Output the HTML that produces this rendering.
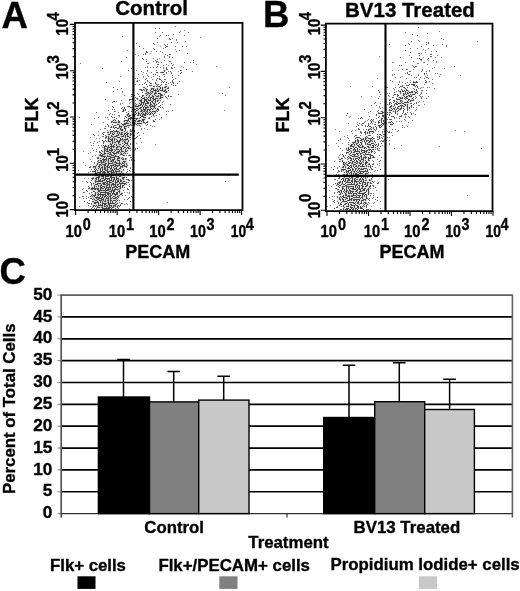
<!DOCTYPE html>
<html><head><meta charset="utf-8"><title>Figure</title>
<style>html,body{margin:0;padding:0;background:#fff}svg{display:block}</style></head>
<body>
<svg width="520" height="591" viewBox="0 0 520 591" font-family='"Liberation Sans", sans-serif' font-weight="bold" fill="#000"><style>text{stroke:#000;stroke-width:0.35px;stroke-linejoin:round}</style>
<rect width="520" height="591" fill="#fff"/>
<path d="M86 190.5h1M87 202.5h1M88 172.5h1M88 186.5h1M88 188.5h1M88 197.5h1M88 203.5h1M88 205.5h1M89 167.5h1M89 187.5h1M89 188.5h1M89 193.5h1M89 200.5h1M89 203.5h1M90 167.5h1M90 171.5h1M90 182.5h1M90 196.5h1M90 198.5h1M90 206.5h1M91 169.5h1M91 178.5h1M91 180.5h1M91 183.5h1M91 184.5h1M91 185.5h1M91 192.5h1M91 195.5h1M91 198.5h1M91 203.5h1M91 204.5h1M91 208.5h1M92 171.5h1M92 178.5h1M92 179.5h1M92 199.5h1M92 201.5h1M92 207.5h1M93 143.5h1M93 166.5h1M93 177.5h1M94 166.5h1M94 191.5h1M94 208.5h1M95 192.5h1M96 208.5h1M97 157.5h1M97 158.5h1M97 161.5h1M98 157.5h1M98 158.5h1M99 151.5h1M99 152.5h1M101 145.5h1M101 150.5h1M102 133.5h1M102 140.5h1M102 147.5h1M102 208.5h1M103 132.5h1M103 134.5h1M103 136.5h1M103 141.5h1M103 142.5h1M103 143.5h1M104 132.5h1M104 141.5h1M105 126.5h1M105 128.5h1M105 135.5h1M105 137.5h1M105 138.5h1M105 140.5h1M106 141.5h1M107 124.5h1M107 130.5h1M107 132.5h1M108 125.5h1M108 126.5h1M110 127.5h1M110 129.5h1M111 116.5h1M111 121.5h1M111 122.5h1M111 126.5h1M111 127.5h1M112 109.5h1M112 114.5h1M112 117.5h1M112 121.5h1M112 124.5h1M113 107.5h1M113 130.5h1M114 101.5h1M114 109.5h1M114 111.5h1M114 117.5h1M114 119.5h1M114 125.5h1M114 128.5h1M115 122.5h1M115 125.5h1M115 208.5h1M116 118.5h1M116 127.5h1M117 128.5h1M118 120.5h1M118 121.5h1M118 197.5h1M118 208.5h1M119 121.5h1M119 200.5h1M119 202.5h1M119 206.5h1M120 204.5h1M120 205.5h1M121 108.5h1M121 123.5h1M121 154.5h1M121 194.5h1M121 203.5h1M122 107.5h1M122 111.5h1M122 143.5h1M122 157.5h1M122 159.5h1M122 193.5h1M122 195.5h1M122 203.5h1M123 111.5h1M123 158.5h1M123 169.5h1M123 170.5h1M123 174.5h1M123 177.5h1M123 178.5h1M124 107.5h1M124 108.5h1M124 118.5h1M124 120.5h1M124 155.5h1M124 174.5h1M124 187.5h1M125 109.5h1M125 110.5h1M125 116.5h1M125 129.5h1M125 130.5h1M125 158.5h1M126 112.5h1M126 117.5h1M126 155.5h1M126 167.5h1M126 172.5h1M126 174.5h1M126 177.5h1M126 179.5h1M126 184.5h1M127 131.5h1M127 153.5h1M127 165.5h1M127 169.5h1M127 171.5h1M127 179.5h1M127 188.5h1M128 106.5h1M128 127.5h1M128 140.5h1M128 155.5h1M128 179.5h1M128 180.5h1M128 182.5h1M129 99.5h1M129 100.5h1M129 106.5h1M129 155.5h1M129 170.5h1M129 180.5h1M129 197.5h1M130 99.5h1M130 107.5h1M130 129.5h1M130 130.5h1M130 134.5h1M130 137.5h1M130 139.5h1M130 143.5h1M130 144.5h1M130 148.5h1M130 150.5h1M130 155.5h1M130 157.5h1M130 168.5h1M131 96.5h1M131 99.5h1M131 107.5h1M131 111.5h1M131 125.5h1M131 134.5h1M131 157.5h1M131 159.5h1M131 196.5h1M132 94.5h1M132 98.5h1M132 99.5h1M132 107.5h1M132 114.5h1M132 138.5h1M132 169.5h1M133 100.5h1M133 127.5h1M133 128.5h1M133 133.5h1M133 134.5h1M133 140.5h1M134 125.5h1M134 130.5h1M134 131.5h1M134 135.5h1M134 138.5h1M135 97.5h1M135 100.5h1M135 105.5h1M135 106.5h1M135 138.5h1M135 148.5h1M135 149.5h1M136 98.5h1M136 137.5h1M137 78.5h1M137 80.5h1M137 81.5h1M137 98.5h1M137 99.5h1M137 115.5h1M137 125.5h1M137 136.5h1M139 80.5h1M139 89.5h1M139 96.5h1M139 118.5h1M140 89.5h1M141 89.5h1M141 90.5h1M142 90.5h1M142 92.5h1M142 95.5h1M143 87.5h1M143 95.5h1M144 83.5h1M144 87.5h1M144 122.5h1M145 53.5h1M145 54.5h1M145 79.5h1M145 82.5h1M145 93.5h1M146 51.5h1M146 52.5h1M146 61.5h1M146 78.5h1M146 84.5h1M146 89.5h1M146 122.5h1M147 52.5h1M147 80.5h1M147 81.5h1M147 86.5h1M147 89.5h1M147 121.5h1M147 122.5h1M147 124.5h1M149 82.5h1M149 85.5h1M149 117.5h1M149 118.5h1M150 83.5h1M150 85.5h1M151 83.5h1M151 85.5h1M151 116.5h1M153 74.5h1M153 76.5h1M153 86.5h1M153 115.5h1M153 120.5h1M153 121.5h1M154 86.5h1M154 116.5h1M154 121.5h1M155 60.5h1M155 74.5h1M155 82.5h1M155 83.5h1M155 119.5h1M156 61.5h1M156 62.5h1M156 72.5h1M156 80.5h1M156 86.5h1M157 59.5h1M157 61.5h1M157 64.5h1M157 66.5h1M157 72.5h1M157 78.5h1M157 85.5h1M157 111.5h1M158 62.5h1M158 64.5h1M158 84.5h1M158 103.5h1M158 106.5h1M158 109.5h1M158 110.5h1M159 76.5h1M159 78.5h1M159 79.5h1M159 102.5h1M159 106.5h1M160 79.5h1M160 85.5h1M160 100.5h1M160 105.5h1M160 107.5h1M161 72.5h1M161 80.5h1M161 82.5h1M161 84.5h1M162 81.5h1M162 87.5h1M162 102.5h1M162 107.5h1M163 72.5h1M163 74.5h1M163 82.5h1M164 71.5h1M164 74.5h1M164 79.5h1M164 81.5h1M164 94.5h1M165 45.5h1M165 47.5h1M165 84.5h1M165 86.5h1M165 87.5h1M165 96.5h1M166 46.5h1M166 67.5h1M166 68.5h1M166 69.5h1M166 72.5h1M166 73.5h1M166 82.5h1M166 84.5h1M166 97.5h1M167 44.5h1M167 46.5h1M167 55.5h1M167 69.5h1M167 98.5h1M168 71.5h1M168 83.5h1M168 87.5h1M168 88.5h1M168 90.5h1M168 95.5h1M168 96.5h1M169 54.5h1M169 56.5h1M170 39.5h1M170 71.5h1M170 82.5h1M170 96.5h1M171 63.5h1M171 67.5h1M171 73.5h1M171 84.5h1M172 65.5h1M172 68.5h1M172 80.5h1M172 81.5h1M172 82.5h1M173 79.5h1M173 82.5h1M173 83.5h1M173 85.5h1M175 85.5h1M180 70.5h1M180 73.5h1M181 72.5h1" stroke="#5c5c5c" stroke-width="1" fill="none"/>
<path d="M78 170.5h1M79 117.5h1M79 197.5h1M79 206.5h1M80 63.5h1M82 181.5h1M82 189.5h1M82 196.5h1M83 151.5h1M83 162.5h1M83 188.5h1M83 192.5h1M83 196.5h1M83 198.5h1M84 178.5h1M84 192.5h1M84 201.5h1M85 165.5h1M86 174.5h1M86 181.5h1M86 196.5h1M86 198.5h1M87 182.5h1M87 191.5h1M88 153.5h1M88 178.5h1M90 137.5h1M90 142.5h1M90 152.5h1M90 159.5h1M90 166.5h1M90 174.5h1M90 175.5h1M91 124.5h1M91 145.5h1M91 161.5h1M92 148.5h1M92 156.5h1M93 134.5h1M93 145.5h1M93 150.5h1M94 118.5h1M94 135.5h1M94 141.5h1M94 162.5h1M94 163.5h1M95 155.5h1M96 112.5h1M96 138.5h1M96 149.5h1M96 151.5h1M97 142.5h1M98 117.5h1M98 131.5h1M98 135.5h1M98 145.5h1M99 138.5h1M99 141.5h1M99 147.5h1M100 129.5h1M102 68.5h1M102 136.5h1M103 122.5h1M104 128.5h1M105 99.5h1M105 117.5h1M106 82.5h1M107 117.5h1M108 110.5h1M108 119.5h1M109 114.5h1M110 113.5h1M112 102.5h1M112 106.5h1M113 87.5h1M113 91.5h1M113 101.5h1M114 114.5h1M115 111.5h1M116 101.5h1M117 89.5h1M118 112.5h1M118 115.5h1M119 81.5h1M119 115.5h1M119 116.5h1M120 76.5h1M120 103.5h1M120 104.5h1M121 61.5h1M121 88.5h1M121 100.5h1M122 36.5h1M122 91.5h1M122 92.5h1M122 103.5h1M123 190.5h1M124 95.5h1M124 192.5h1M124 199.5h1M124 204.5h1M125 195.5h1M126 57.5h1M126 158.5h1M126 203.5h1M127 50.5h1M127 106.5h1M127 189.5h1M127 192.5h1M127 199.5h1M127 204.5h1M128 70.5h1M128 111.5h1M128 175.5h1M128 189.5h1M128 198.5h1M129 103.5h1M129 160.5h1M129 184.5h1M129 186.5h1M129 192.5h1M129 193.5h1M129 208.5h1M130 102.5h1M130 167.5h1M130 171.5h1M130 201.5h1M131 68.5h1M131 94.5h1M131 160.5h1M131 180.5h1M132 176.5h1M132 197.5h1M133 57.5h1M133 72.5h1M133 84.5h1M133 141.5h1M133 168.5h1M133 177.5h1M133 195.5h1M134 95.5h1M134 150.5h1M134 160.5h1M134 172.5h1M135 54.5h1M135 78.5h1M135 84.5h1M135 103.5h1M136 43.5h1M136 70.5h1M136 81.5h1M136 143.5h1M137 93.5h1M137 133.5h1M137 148.5h1M138 55.5h1M138 74.5h1M138 94.5h1M138 132.5h1M139 46.5h1M139 84.5h1M139 135.5h1M140 126.5h1M140 138.5h1M141 71.5h1M141 128.5h1M141 129.5h1M141 142.5h1M142 58.5h1M142 74.5h1M142 84.5h1M143 48.5h1M143 54.5h1M143 59.5h1M143 72.5h1M143 76.5h1M143 77.5h1M143 133.5h1M144 128.5h1M145 67.5h1M146 59.5h1M146 73.5h1M146 125.5h1M147 63.5h1M147 66.5h1M147 67.5h1M147 70.5h1M147 71.5h1M147 75.5h1M147 129.5h1M148 63.5h1M148 76.5h1M148 118.5h1M150 53.5h1M150 67.5h1M150 125.5h1M151 51.5h1M151 72.5h1M151 77.5h1M152 79.5h1M152 126.5h1M153 43.5h1M153 48.5h1M153 58.5h1M153 61.5h1M153 67.5h1M154 44.5h1M154 49.5h1M154 126.5h1M155 28.5h1M155 32.5h1M155 144.5h1M156 51.5h1M156 67.5h1M156 70.5h1M156 79.5h1M156 115.5h1M157 38.5h1M157 42.5h1M157 75.5h1M159 28.5h1M159 36.5h1M159 58.5h1M159 114.5h1M159 119.5h1M160 35.5h1M160 46.5h1M160 51.5h1M160 67.5h1M160 72.5h1M161 62.5h1M161 117.5h1M161 118.5h1M162 32.5h1M162 52.5h1M162 104.5h1M163 48.5h1M163 65.5h1M163 67.5h1M163 68.5h1M163 101.5h1M163 108.5h1M164 44.5h1M164 56.5h1M164 57.5h1M164 60.5h1M164 76.5h1M165 54.5h1M165 79.5h1M166 35.5h1M166 64.5h1M166 111.5h1M166 114.5h1M167 202.5h1M168 35.5h1M168 65.5h1M168 111.5h1M169 38.5h1M169 39.5h1M169 57.5h1M169 61.5h1M170 54.5h1M170 61.5h1M170 104.5h1M171 42.5h1M171 68.5h1M171 72.5h1M171 96.5h1M172 38.5h1M172 57.5h1M172 75.5h1M172 77.5h1M172 110.5h1M173 34.5h1M173 64.5h1M174 67.5h1M175 26.5h1M175 46.5h1M175 49.5h1M175 78.5h1M176 39.5h1M176 40.5h1M176 51.5h1M177 42.5h1M177 83.5h1M178 71.5h1M178 75.5h1M178 94.5h1M179 32.5h1M179 50.5h1M179 81.5h1M180 31.5h1M181 66.5h1M181 70.5h1M182 46.5h1M183 67.5h1M184 30.5h1M184 35.5h1M184 62.5h1M185 41.5h1M186 46.5h1M186 69.5h1M187 53.5h1M188 32.5h1M190 62.5h1M192 71.5h1M193 60.5h1M193 62.5h1M196 64.5h1M200 37.5h1M216 66.5h1M222 93.5h1M224 110.5h1M225 95.5h1M225 181.5h1M228 175.5h1M229 87.5h1" stroke="#7a7a7a" stroke-width="1" fill="none"/>
<path d="M91 188.5h1M91 189.5h1M92 187.5h1M92 188.5h1M92 189.5h1M92 194.5h1M92 196.5h1M93 167.5h1M93 171.5h1M93 178.5h1M93 183.5h1M93 188.5h1M93 191.5h1M93 195.5h1M93 198.5h1M93 201.5h1M93 205.5h1M93 206.5h1M94 169.5h1M94 171.5h1M94 185.5h1M94 186.5h1M94 187.5h1M94 188.5h1M94 189.5h1M94 195.5h1M94 196.5h1M94 199.5h1M94 202.5h1M94 203.5h1M94 205.5h1M95 166.5h1M95 167.5h1M95 168.5h1M95 170.5h1M95 171.5h1M95 172.5h1M95 173.5h1M95 175.5h1M95 178.5h1M95 180.5h1M95 181.5h1M95 182.5h1M95 184.5h1M95 188.5h1M95 189.5h1M95 193.5h1M95 194.5h1M95 195.5h1M95 197.5h1M95 200.5h1M95 202.5h1M95 203.5h1M95 206.5h1M96 165.5h1M96 169.5h1M96 173.5h1M96 175.5h1M96 177.5h1M96 178.5h1M96 179.5h1M96 181.5h1M96 184.5h1M96 186.5h1M96 188.5h1M96 197.5h1M96 198.5h1M96 200.5h1M96 202.5h1M96 205.5h1M97 163.5h1M97 164.5h1M97 170.5h1M97 172.5h1M97 174.5h1M97 175.5h1M97 177.5h1M97 181.5h1M97 183.5h1M97 184.5h1M97 188.5h1M97 189.5h1M97 192.5h1M97 194.5h1M97 196.5h1M97 197.5h1M97 199.5h1M97 201.5h1M97 202.5h1M97 206.5h1M97 207.5h1M98 160.5h1M98 162.5h1M98 166.5h1M98 168.5h1M98 172.5h1M98 174.5h1M98 176.5h1M98 177.5h1M98 178.5h1M98 179.5h1M98 180.5h1M98 181.5h1M98 183.5h1M98 185.5h1M98 186.5h1M98 188.5h1M98 189.5h1M98 190.5h1M98 191.5h1M98 193.5h1M98 194.5h1M98 195.5h1M98 197.5h1M98 198.5h1M98 199.5h1M98 202.5h1M98 203.5h1M98 204.5h1M98 205.5h1M98 207.5h1M99 155.5h1M99 162.5h1M99 164.5h1M99 165.5h1M99 166.5h1M99 167.5h1M99 172.5h1M99 175.5h1M99 176.5h1M99 177.5h1M99 180.5h1M99 181.5h1M99 183.5h1M99 190.5h1M99 191.5h1M99 194.5h1M99 197.5h1M99 198.5h1M99 200.5h1M99 205.5h1M99 207.5h1M100 152.5h1M100 154.5h1M100 155.5h1M100 158.5h1M100 160.5h1M100 161.5h1M100 164.5h1M100 168.5h1M100 169.5h1M100 170.5h1M100 171.5h1M100 172.5h1M100 173.5h1M100 174.5h1M100 179.5h1M100 180.5h1M100 181.5h1M100 183.5h1M100 185.5h1M100 186.5h1M100 187.5h1M100 188.5h1M100 189.5h1M100 190.5h1M100 192.5h1M100 193.5h1M100 194.5h1M100 195.5h1M100 196.5h1M100 198.5h1M100 200.5h1M100 201.5h1M100 202.5h1M100 204.5h1M100 205.5h1M101 153.5h1M101 155.5h1M101 156.5h1M101 160.5h1M101 161.5h1M101 162.5h1M101 163.5h1M101 165.5h1M101 167.5h1M101 171.5h1M101 174.5h1M101 175.5h1M101 176.5h1M101 178.5h1M101 181.5h1M101 184.5h1M101 185.5h1M101 187.5h1M101 188.5h1M101 190.5h1M101 192.5h1M101 194.5h1M101 197.5h1M101 198.5h1M101 199.5h1M101 200.5h1M101 205.5h1M101 207.5h1M102 151.5h1M102 154.5h1M102 155.5h1M102 156.5h1M102 159.5h1M102 162.5h1M102 164.5h1M102 166.5h1M102 167.5h1M102 168.5h1M102 169.5h1M102 170.5h1M102 172.5h1M102 175.5h1M102 176.5h1M102 178.5h1M102 180.5h1M102 181.5h1M102 183.5h1M102 186.5h1M102 188.5h1M102 190.5h1M102 192.5h1M102 194.5h1M102 195.5h1M102 196.5h1M102 197.5h1M102 199.5h1M102 201.5h1M102 202.5h1M102 203.5h1M102 204.5h1M102 205.5h1M102 206.5h1M102 207.5h1M103 145.5h1M103 154.5h1M103 156.5h1M103 158.5h1M103 159.5h1M103 160.5h1M103 161.5h1M103 162.5h1M103 164.5h1M103 171.5h1M103 172.5h1M103 174.5h1M103 175.5h1M103 176.5h1M103 177.5h1M103 178.5h1M103 180.5h1M103 182.5h1M103 183.5h1M103 184.5h1M103 186.5h1M103 188.5h1M103 190.5h1M103 192.5h1M103 194.5h1M103 195.5h1M103 198.5h1M103 199.5h1M103 200.5h1M103 203.5h1M103 208.5h1M104 146.5h1M104 147.5h1M104 148.5h1M104 149.5h1M104 150.5h1M104 151.5h1M104 152.5h1M104 153.5h1M104 154.5h1M104 156.5h1M104 157.5h1M104 159.5h1M104 160.5h1M104 162.5h1M104 164.5h1M104 165.5h1M104 166.5h1M104 167.5h1M104 168.5h1M104 169.5h1M104 171.5h1M104 172.5h1M104 173.5h1M104 174.5h1M104 179.5h1M104 180.5h1M104 182.5h1M104 183.5h1M104 184.5h1M104 186.5h1M104 187.5h1M104 190.5h1M104 192.5h1M104 194.5h1M104 196.5h1M104 197.5h1M104 201.5h1M104 203.5h1M104 204.5h1M104 205.5h1M104 206.5h1M104 208.5h1M105 145.5h1M105 146.5h1M105 148.5h1M105 150.5h1M105 153.5h1M105 156.5h1M105 159.5h1M105 161.5h1M105 163.5h1M105 164.5h1M105 165.5h1M105 167.5h1M105 168.5h1M105 169.5h1M105 170.5h1M105 172.5h1M105 174.5h1M105 175.5h1M105 176.5h1M105 177.5h1M105 178.5h1M105 179.5h1M105 182.5h1M105 184.5h1M105 188.5h1M105 189.5h1M105 190.5h1M105 191.5h1M105 192.5h1M105 193.5h1M105 194.5h1M105 195.5h1M105 196.5h1M105 199.5h1M105 200.5h1M105 201.5h1M105 203.5h1M105 204.5h1M105 206.5h1M105 208.5h1M106 136.5h1M106 137.5h1M106 146.5h1M106 149.5h1M106 151.5h1M106 157.5h1M106 158.5h1M106 159.5h1M106 160.5h1M106 163.5h1M106 166.5h1M106 170.5h1M106 174.5h1M106 176.5h1M106 178.5h1M106 180.5h1M106 181.5h1M106 183.5h1M106 185.5h1M106 186.5h1M106 187.5h1M106 188.5h1M106 190.5h1M106 192.5h1M106 195.5h1M106 197.5h1M106 198.5h1M106 203.5h1M106 205.5h1M106 207.5h1M106 208.5h1M107 147.5h1M107 148.5h1M107 149.5h1M107 150.5h1M107 151.5h1M107 153.5h1M107 155.5h1M107 156.5h1M107 165.5h1M107 166.5h1M107 167.5h1M107 168.5h1M107 169.5h1M107 170.5h1M107 171.5h1M107 172.5h1M107 174.5h1M107 175.5h1M107 176.5h1M107 178.5h1M107 179.5h1M107 181.5h1M107 182.5h1M107 183.5h1M107 184.5h1M107 185.5h1M107 187.5h1M107 189.5h1M107 190.5h1M107 192.5h1M107 193.5h1M107 194.5h1M107 196.5h1M107 198.5h1M107 200.5h1M107 202.5h1M107 205.5h1M107 206.5h1M107 208.5h1M108 132.5h1M108 134.5h1M108 136.5h1M108 137.5h1M108 138.5h1M108 139.5h1M108 140.5h1M108 141.5h1M108 145.5h1M108 146.5h1M108 147.5h1M108 151.5h1M108 153.5h1M108 156.5h1M108 158.5h1M108 159.5h1M108 160.5h1M108 161.5h1M108 162.5h1M108 163.5h1M108 164.5h1M108 165.5h1M108 167.5h1M108 171.5h1M108 172.5h1M108 174.5h1M108 175.5h1M108 176.5h1M108 178.5h1M108 181.5h1M108 184.5h1M108 187.5h1M108 188.5h1M108 189.5h1M108 190.5h1M108 192.5h1M108 193.5h1M108 194.5h1M108 195.5h1M108 197.5h1M108 198.5h1M108 199.5h1M108 200.5h1M108 201.5h1M108 202.5h1M108 203.5h1M108 204.5h1M108 207.5h1M108 208.5h1M109 134.5h1M109 138.5h1M109 141.5h1M109 147.5h1M109 149.5h1M109 150.5h1M109 152.5h1M109 154.5h1M109 156.5h1M109 158.5h1M109 163.5h1M109 166.5h1M109 167.5h1M109 171.5h1M109 173.5h1M109 174.5h1M109 178.5h1M109 179.5h1M109 180.5h1M109 181.5h1M109 182.5h1M109 183.5h1M109 184.5h1M109 185.5h1M109 186.5h1M109 187.5h1M109 189.5h1M109 191.5h1M109 193.5h1M109 196.5h1M109 203.5h1M109 204.5h1M109 205.5h1M109 206.5h1M109 207.5h1M109 208.5h1M110 131.5h1M110 132.5h1M110 133.5h1M110 137.5h1M110 139.5h1M110 141.5h1M110 143.5h1M110 144.5h1M110 146.5h1M110 148.5h1M110 150.5h1M110 152.5h1M110 153.5h1M110 154.5h1M110 156.5h1M110 157.5h1M110 158.5h1M110 159.5h1M110 161.5h1M110 163.5h1M110 165.5h1M110 168.5h1M110 169.5h1M110 171.5h1M110 174.5h1M110 176.5h1M110 177.5h1M110 180.5h1M110 182.5h1M110 187.5h1M110 188.5h1M110 189.5h1M110 191.5h1M110 193.5h1M110 194.5h1M110 195.5h1M110 196.5h1M110 197.5h1M110 198.5h1M110 199.5h1M110 200.5h1M110 201.5h1M110 202.5h1M110 203.5h1M110 205.5h1M110 207.5h1M111 131.5h1M111 135.5h1M111 136.5h1M111 139.5h1M111 140.5h1M111 144.5h1M111 145.5h1M111 146.5h1M111 147.5h1M111 148.5h1M111 149.5h1M111 150.5h1M111 151.5h1M111 154.5h1M111 155.5h1M111 157.5h1M111 160.5h1M111 161.5h1M111 163.5h1M111 165.5h1M111 166.5h1M111 167.5h1M111 168.5h1M111 170.5h1M111 171.5h1M111 172.5h1M111 173.5h1M111 175.5h1M111 176.5h1M111 177.5h1M111 178.5h1M111 179.5h1M111 180.5h1M111 182.5h1M111 184.5h1M111 185.5h1M111 186.5h1M111 190.5h1M111 191.5h1M111 192.5h1M111 195.5h1M111 198.5h1M111 200.5h1M111 203.5h1M111 205.5h1M111 206.5h1M111 208.5h1M112 131.5h1M112 133.5h1M112 134.5h1M112 136.5h1M112 138.5h1M112 139.5h1M112 140.5h1M112 141.5h1M112 142.5h1M112 143.5h1M112 146.5h1M112 149.5h1M112 150.5h1M112 152.5h1M112 155.5h1M112 157.5h1M112 159.5h1M112 160.5h1M112 162.5h1M112 163.5h1M112 165.5h1M112 169.5h1M112 170.5h1M112 172.5h1M112 174.5h1M112 175.5h1M112 177.5h1M112 181.5h1M112 183.5h1M112 184.5h1M112 187.5h1M112 188.5h1M112 189.5h1M112 190.5h1M112 193.5h1M112 194.5h1M112 197.5h1M112 201.5h1M112 202.5h1M112 203.5h1M112 207.5h1M113 120.5h1M113 122.5h1M113 126.5h1M113 127.5h1M113 132.5h1M113 134.5h1M113 137.5h1M113 145.5h1M113 146.5h1M113 147.5h1M113 152.5h1M113 153.5h1M113 155.5h1M113 157.5h1M113 159.5h1M113 160.5h1M113 161.5h1M113 164.5h1M113 165.5h1M113 167.5h1M113 170.5h1M113 171.5h1M113 172.5h1M113 175.5h1M113 177.5h1M113 179.5h1M113 180.5h1M113 181.5h1M113 183.5h1M113 184.5h1M113 185.5h1M113 187.5h1M113 190.5h1M113 191.5h1M113 192.5h1M113 193.5h1M113 196.5h1M113 198.5h1M113 200.5h1M113 203.5h1M113 205.5h1M113 206.5h1M113 207.5h1M114 122.5h1M114 131.5h1M114 133.5h1M114 136.5h1M114 138.5h1M114 139.5h1M114 140.5h1M114 142.5h1M114 144.5h1M114 146.5h1M114 149.5h1M114 151.5h1M114 153.5h1M114 154.5h1M114 156.5h1M114 157.5h1M114 158.5h1M114 159.5h1M114 162.5h1M114 164.5h1M114 166.5h1M114 168.5h1M114 169.5h1M114 172.5h1M114 174.5h1M114 175.5h1M114 177.5h1M114 178.5h1M114 179.5h1M114 184.5h1M114 186.5h1M114 187.5h1M114 189.5h1M114 190.5h1M114 191.5h1M114 193.5h1M114 194.5h1M114 196.5h1M114 198.5h1M114 200.5h1M114 203.5h1M114 205.5h1M115 120.5h1M115 127.5h1M115 131.5h1M115 136.5h1M115 142.5h1M115 150.5h1M115 153.5h1M115 155.5h1M115 156.5h1M115 161.5h1M115 162.5h1M115 164.5h1M115 165.5h1M115 166.5h1M115 168.5h1M115 170.5h1M115 171.5h1M115 175.5h1M115 180.5h1M115 181.5h1M115 182.5h1M115 183.5h1M115 184.5h1M115 185.5h1M115 186.5h1M115 188.5h1M115 189.5h1M115 194.5h1M115 195.5h1M115 197.5h1M115 198.5h1M115 200.5h1M115 202.5h1M115 204.5h1M115 205.5h1M115 206.5h1M116 122.5h1M116 130.5h1M116 131.5h1M116 135.5h1M116 136.5h1M116 139.5h1M116 141.5h1M116 144.5h1M116 145.5h1M116 147.5h1M116 148.5h1M116 149.5h1M116 152.5h1M116 153.5h1M116 156.5h1M116 162.5h1M116 163.5h1M116 165.5h1M116 167.5h1M116 168.5h1M116 169.5h1M116 171.5h1M116 172.5h1M116 173.5h1M116 174.5h1M116 176.5h1M116 177.5h1M116 178.5h1M116 179.5h1M116 182.5h1M116 186.5h1M116 187.5h1M116 189.5h1M116 192.5h1M116 193.5h1M116 194.5h1M116 197.5h1M116 199.5h1M116 201.5h1M116 204.5h1M117 124.5h1M117 131.5h1M117 132.5h1M117 133.5h1M117 135.5h1M117 137.5h1M117 140.5h1M117 141.5h1M117 146.5h1M117 147.5h1M117 149.5h1M117 151.5h1M117 152.5h1M117 156.5h1M117 158.5h1M117 159.5h1M117 160.5h1M117 163.5h1M117 165.5h1M117 166.5h1M117 169.5h1M117 171.5h1M117 174.5h1M117 175.5h1M117 178.5h1M117 180.5h1M117 181.5h1M117 182.5h1M117 184.5h1M117 185.5h1M117 187.5h1M117 189.5h1M117 192.5h1M117 193.5h1M117 194.5h1M117 196.5h1M117 198.5h1M117 200.5h1M117 203.5h1M117 206.5h1M117 207.5h1M118 122.5h1M118 124.5h1M118 128.5h1M118 131.5h1M118 134.5h1M118 135.5h1M118 137.5h1M118 141.5h1M118 142.5h1M118 143.5h1M118 146.5h1M118 149.5h1M118 151.5h1M118 152.5h1M118 153.5h1M118 156.5h1M118 157.5h1M118 158.5h1M118 160.5h1M118 163.5h1M118 165.5h1M118 169.5h1M118 171.5h1M118 175.5h1M118 178.5h1M118 179.5h1M118 180.5h1M118 181.5h1M118 184.5h1M118 186.5h1M118 189.5h1M118 191.5h1M118 196.5h1M118 205.5h1M119 122.5h1M119 125.5h1M119 126.5h1M119 127.5h1M119 132.5h1M119 133.5h1M119 137.5h1M119 140.5h1M119 141.5h1M119 142.5h1M119 144.5h1M119 146.5h1M119 150.5h1M119 151.5h1M119 157.5h1M119 158.5h1M119 160.5h1M119 161.5h1M119 162.5h1M119 163.5h1M119 164.5h1M119 165.5h1M119 168.5h1M119 170.5h1M119 171.5h1M119 173.5h1M119 176.5h1M119 182.5h1M119 183.5h1M119 186.5h1M119 188.5h1M119 190.5h1M119 191.5h1M119 192.5h1M119 195.5h1M120 126.5h1M120 128.5h1M120 129.5h1M120 134.5h1M120 138.5h1M120 139.5h1M120 140.5h1M120 144.5h1M120 147.5h1M120 149.5h1M120 152.5h1M120 154.5h1M120 163.5h1M120 166.5h1M120 167.5h1M120 168.5h1M120 173.5h1M120 175.5h1M120 176.5h1M120 179.5h1M120 180.5h1M120 181.5h1M120 183.5h1M120 184.5h1M120 185.5h1M120 186.5h1M120 187.5h1M120 188.5h1M120 194.5h1M121 126.5h1M121 127.5h1M121 129.5h1M121 130.5h1M121 132.5h1M121 133.5h1M121 134.5h1M121 136.5h1M121 139.5h1M121 147.5h1M121 148.5h1M121 149.5h1M121 150.5h1M121 151.5h1M121 153.5h1M121 158.5h1M121 164.5h1M121 166.5h1M121 171.5h1M121 172.5h1M121 174.5h1M121 180.5h1M121 181.5h1M121 183.5h1M121 193.5h1M122 124.5h1M122 129.5h1M122 130.5h1M122 132.5h1M122 134.5h1M122 136.5h1M122 138.5h1M122 139.5h1M122 141.5h1M122 146.5h1M122 151.5h1M122 154.5h1M122 162.5h1M122 163.5h1M122 165.5h1M122 166.5h1M122 167.5h1M122 173.5h1M122 177.5h1M122 178.5h1M122 182.5h1M122 183.5h1M122 185.5h1M122 186.5h1M122 187.5h1M123 109.5h1M123 110.5h1M123 124.5h1M123 125.5h1M123 135.5h1M123 136.5h1M123 140.5h1M123 145.5h1M123 146.5h1M123 148.5h1M123 151.5h1M123 153.5h1M123 155.5h1M123 159.5h1M123 161.5h1M123 163.5h1M123 165.5h1M123 173.5h1M123 175.5h1M123 179.5h1M123 181.5h1M123 183.5h1M123 185.5h1M124 121.5h1M124 123.5h1M124 124.5h1M124 126.5h1M124 127.5h1M124 128.5h1M124 131.5h1M124 133.5h1M124 134.5h1M124 139.5h1M124 141.5h1M124 142.5h1M124 144.5h1M124 147.5h1M124 152.5h1M124 161.5h1M124 162.5h1M124 164.5h1M124 165.5h1M124 166.5h1M124 177.5h1M124 181.5h1M124 183.5h1M124 184.5h1M125 120.5h1M125 123.5h1M125 124.5h1M125 126.5h1M125 128.5h1M125 133.5h1M125 135.5h1M125 136.5h1M125 137.5h1M125 139.5h1M125 140.5h1M125 142.5h1M125 143.5h1M125 147.5h1M125 149.5h1M125 150.5h1M125 151.5h1M125 153.5h1M125 159.5h1M125 161.5h1M125 166.5h1M125 183.5h1M126 120.5h1M126 122.5h1M126 123.5h1M126 126.5h1M126 132.5h1M126 134.5h1M126 139.5h1M126 143.5h1M126 145.5h1M126 148.5h1M126 151.5h1M126 163.5h1M126 164.5h1M126 166.5h1M126 182.5h1M127 114.5h1M127 115.5h1M127 120.5h1M127 121.5h1M127 123.5h1M127 125.5h1M127 133.5h1M127 134.5h1M127 135.5h1M127 136.5h1M127 138.5h1M127 139.5h1M127 142.5h1M127 143.5h1M127 144.5h1M127 147.5h1M127 150.5h1M128 113.5h1M128 114.5h1M128 116.5h1M128 118.5h1M128 119.5h1M128 120.5h1M128 123.5h1M128 125.5h1M128 133.5h1M128 136.5h1M128 141.5h1M128 145.5h1M128 147.5h1M128 148.5h1M129 115.5h1M129 116.5h1M129 118.5h1M129 121.5h1M129 125.5h1M129 137.5h1M129 146.5h1M129 148.5h1M130 115.5h1M130 117.5h1M130 118.5h1M130 119.5h1M130 122.5h1M130 124.5h1M130 131.5h1M130 133.5h1M130 135.5h1M131 117.5h1M131 118.5h1M131 131.5h1M132 109.5h1M132 118.5h1M132 120.5h1M132 122.5h1M132 123.5h1M132 129.5h1M132 130.5h1M132 133.5h1M133 109.5h1M133 110.5h1M133 114.5h1M133 115.5h1M133 117.5h1M133 119.5h1M133 120.5h1M134 109.5h1M134 114.5h1M134 115.5h1M134 116.5h1M134 118.5h1M134 120.5h1M134 122.5h1M134 123.5h1M134 124.5h1M135 109.5h1M135 111.5h1M135 112.5h1M135 114.5h1M135 118.5h1M135 120.5h1M135 121.5h1M135 123.5h1M136 104.5h1M136 106.5h1M136 108.5h1M136 110.5h1M136 113.5h1M136 118.5h1M136 119.5h1M136 124.5h1M137 106.5h1M137 108.5h1M137 110.5h1M137 118.5h1M137 121.5h1M137 123.5h1M138 105.5h1M138 106.5h1M138 109.5h1M138 112.5h1M138 113.5h1M138 114.5h1M138 115.5h1M138 120.5h1M138 121.5h1M138 123.5h1M139 100.5h1M139 103.5h1M139 105.5h1M139 108.5h1M139 113.5h1M139 120.5h1M139 121.5h1M139 123.5h1M139 125.5h1M140 100.5h1M140 101.5h1M140 104.5h1M140 105.5h1M140 107.5h1M140 108.5h1M140 111.5h1M140 114.5h1M140 115.5h1M140 117.5h1M140 120.5h1M140 123.5h1M141 97.5h1M141 99.5h1M141 100.5h1M141 101.5h1M141 102.5h1M141 103.5h1M141 104.5h1M141 107.5h1M141 109.5h1M141 110.5h1M141 111.5h1M141 113.5h1M141 116.5h1M141 121.5h1M141 123.5h1M142 96.5h1M142 98.5h1M142 102.5h1M142 105.5h1M142 106.5h1M142 110.5h1M142 112.5h1M142 114.5h1M142 115.5h1M142 116.5h1M142 119.5h1M142 120.5h1M143 89.5h1M143 98.5h1M143 102.5h1M143 103.5h1M143 104.5h1M143 107.5h1M143 108.5h1M143 109.5h1M143 111.5h1M143 113.5h1M143 114.5h1M143 116.5h1M143 117.5h1M143 119.5h1M143 120.5h1M143 121.5h1M143 122.5h1M144 90.5h1M144 97.5h1M144 98.5h1M144 99.5h1M144 100.5h1M144 101.5h1M144 102.5h1M144 106.5h1M144 109.5h1M144 110.5h1M144 111.5h1M144 114.5h1M144 115.5h1M144 117.5h1M144 119.5h1M145 88.5h1M145 99.5h1M145 100.5h1M145 103.5h1M145 104.5h1M145 105.5h1M145 107.5h1M145 108.5h1M145 109.5h1M145 110.5h1M145 112.5h1M145 113.5h1M145 114.5h1M145 115.5h1M145 117.5h1M145 123.5h1M146 90.5h1M146 91.5h1M146 93.5h1M146 95.5h1M146 97.5h1M146 99.5h1M146 100.5h1M146 101.5h1M146 103.5h1M146 105.5h1M146 107.5h1M146 108.5h1M146 111.5h1M146 113.5h1M147 92.5h1M147 94.5h1M147 98.5h1M147 101.5h1M147 102.5h1M147 103.5h1M147 106.5h1M147 107.5h1M147 109.5h1M147 110.5h1M147 111.5h1M147 112.5h1M147 114.5h1M148 92.5h1M148 93.5h1M148 97.5h1M148 99.5h1M148 100.5h1M148 102.5h1M148 103.5h1M148 107.5h1M148 109.5h1M148 113.5h1M149 93.5h1M149 95.5h1M149 96.5h1M149 100.5h1M149 105.5h1M149 109.5h1M149 110.5h1M149 112.5h1M149 114.5h1M150 90.5h1M150 92.5h1M150 94.5h1M150 97.5h1M150 98.5h1M150 99.5h1M150 100.5h1M150 102.5h1M150 103.5h1M150 104.5h1M150 105.5h1M150 106.5h1M150 107.5h1M150 109.5h1M150 111.5h1M150 113.5h1M150 114.5h1M151 88.5h1M151 89.5h1M151 91.5h1M151 93.5h1M151 97.5h1M151 101.5h1M151 104.5h1M151 106.5h1M151 108.5h1M151 112.5h1M152 88.5h1M152 91.5h1M152 92.5h1M152 95.5h1M152 96.5h1M152 98.5h1M152 101.5h1M152 102.5h1M152 105.5h1M152 106.5h1M152 109.5h1M152 111.5h1M152 113.5h1M153 88.5h1M153 89.5h1M153 90.5h1M153 96.5h1M153 97.5h1M153 98.5h1M153 99.5h1M153 100.5h1M153 103.5h1M153 106.5h1M153 108.5h1M153 111.5h1M153 114.5h1M154 90.5h1M154 93.5h1M154 94.5h1M154 99.5h1M154 103.5h1M154 104.5h1M154 105.5h1M154 106.5h1M154 107.5h1M154 111.5h1M154 113.5h1M155 89.5h1M155 90.5h1M155 91.5h1M155 92.5h1M155 93.5h1M155 95.5h1M155 98.5h1M155 99.5h1M155 100.5h1M155 101.5h1M155 102.5h1M155 105.5h1M155 108.5h1M155 111.5h1M155 112.5h1M156 84.5h1M156 90.5h1M156 93.5h1M156 96.5h1M156 98.5h1M156 104.5h1M156 110.5h1M157 88.5h1M157 89.5h1M157 91.5h1M157 96.5h1M157 98.5h1M157 100.5h1M157 101.5h1M157 108.5h1M157 109.5h1M158 86.5h1M158 90.5h1M158 91.5h1M158 93.5h1M158 95.5h1M158 96.5h1M158 100.5h1M159 86.5h1M159 89.5h1M159 93.5h1M159 98.5h1M160 87.5h1M160 88.5h1M160 90.5h1M160 93.5h1M160 94.5h1M160 95.5h1M160 96.5h1M160 97.5h1M160 98.5h1M161 90.5h1M161 94.5h1M161 95.5h1M161 97.5h1M162 72.5h1M162 88.5h1M162 89.5h1M162 90.5h1M162 95.5h1M162 97.5h1M163 91.5h1M164 70.5h1M164 87.5h1M164 90.5h1M164 91.5h1M165 89.5h1M165 90.5h1M165 92.5h1M166 86.5h1M166 91.5h1M166 92.5h1M167 88.5h1" stroke="#000" stroke-opacity="0.15" stroke-width="2.2" stroke-linecap="square" fill="none"/>
<path d="M91 188.5h1M91 189.5h1M92 187.5h1M92 188.5h1M92 189.5h1M92 194.5h1M92 196.5h1M93 167.5h1M93 171.5h1M93 178.5h1M93 183.5h1M93 188.5h1M93 191.5h1M93 195.5h1M93 198.5h1M93 201.5h1M93 205.5h1M93 206.5h1M94 169.5h1M94 171.5h1M94 185.5h1M94 186.5h1M94 187.5h1M94 188.5h1M94 189.5h1M94 195.5h1M94 196.5h1M94 199.5h1M94 202.5h1M94 203.5h1M94 205.5h1M95 166.5h1M95 167.5h1M95 168.5h1M95 170.5h1M95 171.5h1M95 172.5h1M95 173.5h1M95 175.5h1M95 178.5h1M95 180.5h1M95 181.5h1M95 182.5h1M95 184.5h1M95 188.5h1M95 189.5h1M95 193.5h1M95 194.5h1M95 195.5h1M95 197.5h1M95 200.5h1M95 202.5h1M95 203.5h1M95 206.5h1M96 165.5h1M96 169.5h1M96 173.5h1M96 175.5h1M96 177.5h1M96 178.5h1M96 179.5h1M96 181.5h1M96 184.5h1M96 186.5h1M96 188.5h1M96 197.5h1M96 198.5h1M96 200.5h1M96 202.5h1M96 205.5h1M97 163.5h1M97 164.5h1M97 170.5h1M97 172.5h1M97 174.5h1M97 175.5h1M97 177.5h1M97 181.5h1M97 183.5h1M97 184.5h1M97 188.5h1M97 189.5h1M97 192.5h1M97 194.5h1M97 196.5h1M97 197.5h1M97 199.5h1M97 201.5h1M97 202.5h1M97 206.5h1M97 207.5h1M98 160.5h1M98 162.5h1M98 166.5h1M98 168.5h1M98 172.5h1M98 174.5h1M98 176.5h1M98 177.5h1M98 178.5h1M98 179.5h1M98 180.5h1M98 181.5h1M98 183.5h1M98 185.5h1M98 186.5h1M98 188.5h1M98 189.5h1M98 190.5h1M98 191.5h1M98 193.5h1M98 194.5h1M98 195.5h1M98 197.5h1M98 198.5h1M98 199.5h1M98 202.5h1M98 203.5h1M98 204.5h1M98 205.5h1M98 207.5h1M99 155.5h1M99 162.5h1M99 164.5h1M99 165.5h1M99 166.5h1M99 167.5h1M99 172.5h1M99 175.5h1M99 176.5h1M99 177.5h1M99 180.5h1M99 181.5h1M99 183.5h1M99 190.5h1M99 191.5h1M99 194.5h1M99 197.5h1M99 198.5h1M99 200.5h1M99 205.5h1M99 207.5h1M100 152.5h1M100 154.5h1M100 155.5h1M100 158.5h1M100 160.5h1M100 161.5h1M100 164.5h1M100 168.5h1M100 169.5h1M100 170.5h1M100 171.5h1M100 172.5h1M100 173.5h1M100 174.5h1M100 179.5h1M100 180.5h1M100 181.5h1M100 183.5h1M100 185.5h1M100 186.5h1M100 187.5h1M100 188.5h1M100 189.5h1M100 190.5h1M100 192.5h1M100 193.5h1M100 194.5h1M100 195.5h1M100 196.5h1M100 198.5h1M100 200.5h1M100 201.5h1M100 202.5h1M100 204.5h1M100 205.5h1M101 153.5h1M101 155.5h1M101 156.5h1M101 160.5h1M101 161.5h1M101 162.5h1M101 163.5h1M101 165.5h1M101 167.5h1M101 171.5h1M101 174.5h1M101 175.5h1M101 176.5h1M101 178.5h1M101 181.5h1M101 184.5h1M101 185.5h1M101 187.5h1M101 188.5h1M101 190.5h1M101 192.5h1M101 194.5h1M101 197.5h1M101 198.5h1M101 199.5h1M101 200.5h1M101 205.5h1M101 207.5h1M102 151.5h1M102 154.5h1M102 155.5h1M102 156.5h1M102 159.5h1M102 162.5h1M102 164.5h1M102 166.5h1M102 167.5h1M102 168.5h1M102 169.5h1M102 170.5h1M102 172.5h1M102 175.5h1M102 176.5h1M102 178.5h1M102 180.5h1M102 181.5h1M102 183.5h1M102 186.5h1M102 188.5h1M102 190.5h1M102 192.5h1M102 194.5h1M102 195.5h1M102 196.5h1M102 197.5h1M102 199.5h1M102 201.5h1M102 202.5h1M102 203.5h1M102 204.5h1M102 205.5h1M102 206.5h1M102 207.5h1M103 145.5h1M103 154.5h1M103 156.5h1M103 158.5h1M103 159.5h1M103 160.5h1M103 161.5h1M103 162.5h1M103 164.5h1M103 171.5h1M103 172.5h1M103 174.5h1M103 175.5h1M103 176.5h1M103 177.5h1M103 178.5h1M103 180.5h1M103 182.5h1M103 183.5h1M103 184.5h1M103 186.5h1M103 188.5h1M103 190.5h1M103 192.5h1M103 194.5h1M103 195.5h1M103 198.5h1M103 199.5h1M103 200.5h1M103 203.5h1M103 208.5h1M104 146.5h1M104 147.5h1M104 148.5h1M104 149.5h1M104 150.5h1M104 151.5h1M104 152.5h1M104 153.5h1M104 154.5h1M104 156.5h1M104 157.5h1M104 159.5h1M104 160.5h1M104 162.5h1M104 164.5h1M104 165.5h1M104 166.5h1M104 167.5h1M104 168.5h1M104 169.5h1M104 171.5h1M104 172.5h1M104 173.5h1M104 174.5h1M104 179.5h1M104 180.5h1M104 182.5h1M104 183.5h1M104 184.5h1M104 186.5h1M104 187.5h1M104 190.5h1M104 192.5h1M104 194.5h1M104 196.5h1M104 197.5h1M104 201.5h1M104 203.5h1M104 204.5h1M104 205.5h1M104 206.5h1M104 208.5h1M105 145.5h1M105 146.5h1M105 148.5h1M105 150.5h1M105 153.5h1M105 156.5h1M105 159.5h1M105 161.5h1M105 163.5h1M105 164.5h1M105 165.5h1M105 167.5h1M105 168.5h1M105 169.5h1M105 170.5h1M105 172.5h1M105 174.5h1M105 175.5h1M105 176.5h1M105 177.5h1M105 178.5h1M105 179.5h1M105 182.5h1M105 184.5h1M105 188.5h1M105 189.5h1M105 190.5h1M105 191.5h1M105 192.5h1M105 193.5h1M105 194.5h1M105 195.5h1M105 196.5h1M105 199.5h1M105 200.5h1M105 201.5h1M105 203.5h1M105 204.5h1M105 206.5h1M105 208.5h1M106 136.5h1M106 137.5h1M106 146.5h1M106 149.5h1M106 151.5h1M106 157.5h1M106 158.5h1M106 159.5h1M106 160.5h1M106 163.5h1M106 166.5h1M106 170.5h1M106 174.5h1M106 176.5h1M106 178.5h1M106 180.5h1M106 181.5h1M106 183.5h1M106 185.5h1M106 186.5h1M106 187.5h1M106 188.5h1M106 190.5h1M106 192.5h1M106 195.5h1M106 197.5h1M106 198.5h1M106 203.5h1M106 205.5h1M106 207.5h1M106 208.5h1M107 147.5h1M107 148.5h1M107 149.5h1M107 150.5h1M107 151.5h1M107 153.5h1M107 155.5h1M107 156.5h1M107 165.5h1M107 166.5h1M107 167.5h1M107 168.5h1M107 169.5h1M107 170.5h1M107 171.5h1M107 172.5h1M107 174.5h1M107 175.5h1M107 176.5h1M107 178.5h1M107 179.5h1M107 181.5h1M107 182.5h1M107 183.5h1M107 184.5h1M107 185.5h1M107 187.5h1M107 189.5h1M107 190.5h1M107 192.5h1M107 193.5h1M107 194.5h1M107 196.5h1M107 198.5h1M107 200.5h1M107 202.5h1M107 205.5h1M107 206.5h1M107 208.5h1M108 132.5h1M108 134.5h1M108 136.5h1M108 137.5h1M108 138.5h1M108 139.5h1M108 140.5h1M108 141.5h1M108 145.5h1M108 146.5h1M108 147.5h1M108 151.5h1M108 153.5h1M108 156.5h1M108 158.5h1M108 159.5h1M108 160.5h1M108 161.5h1M108 162.5h1M108 163.5h1M108 164.5h1M108 165.5h1M108 167.5h1M108 171.5h1M108 172.5h1M108 174.5h1M108 175.5h1M108 176.5h1M108 178.5h1M108 181.5h1M108 184.5h1M108 187.5h1M108 188.5h1M108 189.5h1M108 190.5h1M108 192.5h1M108 193.5h1M108 194.5h1M108 195.5h1M108 197.5h1M108 198.5h1M108 199.5h1M108 200.5h1M108 201.5h1M108 202.5h1M108 203.5h1M108 204.5h1M108 207.5h1M108 208.5h1M109 134.5h1M109 138.5h1M109 141.5h1M109 147.5h1M109 149.5h1M109 150.5h1M109 152.5h1M109 154.5h1M109 156.5h1M109 158.5h1M109 163.5h1M109 166.5h1M109 167.5h1M109 171.5h1M109 173.5h1M109 174.5h1M109 178.5h1M109 179.5h1M109 180.5h1M109 181.5h1M109 182.5h1M109 183.5h1M109 184.5h1M109 185.5h1M109 186.5h1M109 187.5h1M109 189.5h1M109 191.5h1M109 193.5h1M109 196.5h1M109 203.5h1M109 204.5h1M109 205.5h1M109 206.5h1M109 207.5h1M109 208.5h1M110 131.5h1M110 132.5h1M110 133.5h1M110 137.5h1M110 139.5h1M110 141.5h1M110 143.5h1M110 144.5h1M110 146.5h1M110 148.5h1M110 150.5h1M110 152.5h1M110 153.5h1M110 154.5h1M110 156.5h1M110 157.5h1M110 158.5h1M110 159.5h1M110 161.5h1M110 163.5h1M110 165.5h1M110 168.5h1M110 169.5h1M110 171.5h1M110 174.5h1M110 176.5h1M110 177.5h1M110 180.5h1M110 182.5h1M110 187.5h1M110 188.5h1M110 189.5h1M110 191.5h1M110 193.5h1M110 194.5h1M110 195.5h1M110 196.5h1M110 197.5h1M110 198.5h1M110 199.5h1M110 200.5h1M110 201.5h1M110 202.5h1M110 203.5h1M110 205.5h1M110 207.5h1M111 131.5h1M111 135.5h1M111 136.5h1M111 139.5h1M111 140.5h1M111 144.5h1M111 145.5h1M111 146.5h1M111 147.5h1M111 148.5h1M111 149.5h1M111 150.5h1M111 151.5h1M111 154.5h1M111 155.5h1M111 157.5h1M111 160.5h1M111 161.5h1M111 163.5h1M111 165.5h1M111 166.5h1M111 167.5h1M111 168.5h1M111 170.5h1M111 171.5h1M111 172.5h1M111 173.5h1M111 175.5h1M111 176.5h1M111 177.5h1M111 178.5h1M111 179.5h1M111 180.5h1M111 182.5h1M111 184.5h1M111 185.5h1M111 186.5h1M111 190.5h1M111 191.5h1M111 192.5h1M111 195.5h1M111 198.5h1M111 200.5h1M111 203.5h1M111 205.5h1M111 206.5h1M111 208.5h1M112 131.5h1M112 133.5h1M112 134.5h1M112 136.5h1M112 138.5h1M112 139.5h1M112 140.5h1M112 141.5h1M112 142.5h1M112 143.5h1M112 146.5h1M112 149.5h1M112 150.5h1M112 152.5h1M112 155.5h1M112 157.5h1M112 159.5h1M112 160.5h1M112 162.5h1M112 163.5h1M112 165.5h1M112 169.5h1M112 170.5h1M112 172.5h1M112 174.5h1M112 175.5h1M112 177.5h1M112 181.5h1M112 183.5h1M112 184.5h1M112 187.5h1M112 188.5h1M112 189.5h1M112 190.5h1M112 193.5h1M112 194.5h1M112 197.5h1M112 201.5h1M112 202.5h1M112 203.5h1M112 207.5h1M113 120.5h1M113 122.5h1M113 126.5h1M113 127.5h1M113 132.5h1M113 134.5h1M113 137.5h1M113 145.5h1M113 146.5h1M113 147.5h1M113 152.5h1M113 153.5h1M113 155.5h1M113 157.5h1M113 159.5h1M113 160.5h1M113 161.5h1M113 164.5h1M113 165.5h1M113 167.5h1M113 170.5h1M113 171.5h1M113 172.5h1M113 175.5h1M113 177.5h1M113 179.5h1M113 180.5h1M113 181.5h1M113 183.5h1M113 184.5h1M113 185.5h1M113 187.5h1M113 190.5h1M113 191.5h1M113 192.5h1M113 193.5h1M113 196.5h1M113 198.5h1M113 200.5h1M113 203.5h1M113 205.5h1M113 206.5h1M113 207.5h1M114 122.5h1M114 131.5h1M114 133.5h1M114 136.5h1M114 138.5h1M114 139.5h1M114 140.5h1M114 142.5h1M114 144.5h1M114 146.5h1M114 149.5h1M114 151.5h1M114 153.5h1M114 154.5h1M114 156.5h1M114 157.5h1M114 158.5h1M114 159.5h1M114 162.5h1M114 164.5h1M114 166.5h1M114 168.5h1M114 169.5h1M114 172.5h1M114 174.5h1M114 175.5h1M114 177.5h1M114 178.5h1M114 179.5h1M114 184.5h1M114 186.5h1M114 187.5h1M114 189.5h1M114 190.5h1M114 191.5h1M114 193.5h1M114 194.5h1M114 196.5h1M114 198.5h1M114 200.5h1M114 203.5h1M114 205.5h1M115 120.5h1M115 127.5h1M115 131.5h1M115 136.5h1M115 142.5h1M115 150.5h1M115 153.5h1M115 155.5h1M115 156.5h1M115 161.5h1M115 162.5h1M115 164.5h1M115 165.5h1M115 166.5h1M115 168.5h1M115 170.5h1M115 171.5h1M115 175.5h1M115 180.5h1M115 181.5h1M115 182.5h1M115 183.5h1M115 184.5h1M115 185.5h1M115 186.5h1M115 188.5h1M115 189.5h1M115 194.5h1M115 195.5h1M115 197.5h1M115 198.5h1M115 200.5h1M115 202.5h1M115 204.5h1M115 205.5h1M115 206.5h1M116 122.5h1M116 130.5h1M116 131.5h1M116 135.5h1M116 136.5h1M116 139.5h1M116 141.5h1M116 144.5h1M116 145.5h1M116 147.5h1M116 148.5h1M116 149.5h1M116 152.5h1M116 153.5h1M116 156.5h1M116 162.5h1M116 163.5h1M116 165.5h1M116 167.5h1M116 168.5h1M116 169.5h1M116 171.5h1M116 172.5h1M116 173.5h1M116 174.5h1M116 176.5h1M116 177.5h1M116 178.5h1M116 179.5h1M116 182.5h1M116 186.5h1M116 187.5h1M116 189.5h1M116 192.5h1M116 193.5h1M116 194.5h1M116 197.5h1M116 199.5h1M116 201.5h1M116 204.5h1M117 124.5h1M117 131.5h1M117 132.5h1M117 133.5h1M117 135.5h1M117 137.5h1M117 140.5h1M117 141.5h1M117 146.5h1M117 147.5h1M117 149.5h1M117 151.5h1M117 152.5h1M117 156.5h1M117 158.5h1M117 159.5h1M117 160.5h1M117 163.5h1M117 165.5h1M117 166.5h1M117 169.5h1M117 171.5h1M117 174.5h1M117 175.5h1M117 178.5h1M117 180.5h1M117 181.5h1M117 182.5h1M117 184.5h1M117 185.5h1M117 187.5h1M117 189.5h1M117 192.5h1M117 193.5h1M117 194.5h1M117 196.5h1M117 198.5h1M117 200.5h1M117 203.5h1M117 206.5h1M117 207.5h1M118 122.5h1M118 124.5h1M118 128.5h1M118 131.5h1M118 134.5h1M118 135.5h1M118 137.5h1M118 141.5h1M118 142.5h1M118 143.5h1M118 146.5h1M118 149.5h1M118 151.5h1M118 152.5h1M118 153.5h1M118 156.5h1M118 157.5h1M118 158.5h1M118 160.5h1M118 163.5h1M118 165.5h1M118 169.5h1M118 171.5h1M118 175.5h1M118 178.5h1M118 179.5h1M118 180.5h1M118 181.5h1M118 184.5h1M118 186.5h1M118 189.5h1M118 191.5h1M118 196.5h1M118 205.5h1M119 122.5h1M119 125.5h1M119 126.5h1M119 127.5h1M119 132.5h1M119 133.5h1M119 137.5h1M119 140.5h1M119 141.5h1M119 142.5h1M119 144.5h1M119 146.5h1M119 150.5h1M119 151.5h1M119 157.5h1M119 158.5h1M119 160.5h1M119 161.5h1M119 162.5h1M119 163.5h1M119 164.5h1M119 165.5h1M119 168.5h1M119 170.5h1M119 171.5h1M119 173.5h1M119 176.5h1M119 182.5h1M119 183.5h1M119 186.5h1M119 188.5h1M119 190.5h1M119 191.5h1M119 192.5h1M119 195.5h1M120 126.5h1M120 128.5h1M120 129.5h1M120 134.5h1M120 138.5h1M120 139.5h1M120 140.5h1M120 144.5h1M120 147.5h1M120 149.5h1M120 152.5h1M120 154.5h1M120 163.5h1M120 166.5h1M120 167.5h1M120 168.5h1M120 173.5h1M120 175.5h1M120 176.5h1M120 179.5h1M120 180.5h1M120 181.5h1M120 183.5h1M120 184.5h1M120 185.5h1M120 186.5h1M120 187.5h1M120 188.5h1M120 194.5h1M121 126.5h1M121 127.5h1M121 129.5h1M121 130.5h1M121 132.5h1M121 133.5h1M121 134.5h1M121 136.5h1M121 139.5h1M121 147.5h1M121 148.5h1M121 149.5h1M121 150.5h1M121 151.5h1M121 153.5h1M121 158.5h1M121 164.5h1M121 166.5h1M121 171.5h1M121 172.5h1M121 174.5h1M121 180.5h1M121 181.5h1M121 183.5h1M121 193.5h1M122 124.5h1M122 129.5h1M122 130.5h1M122 132.5h1M122 134.5h1M122 136.5h1M122 138.5h1M122 139.5h1M122 141.5h1M122 146.5h1M122 151.5h1M122 154.5h1M122 162.5h1M122 163.5h1M122 165.5h1M122 166.5h1M122 167.5h1M122 173.5h1M122 177.5h1M122 178.5h1M122 182.5h1M122 183.5h1M122 185.5h1M122 186.5h1M122 187.5h1M123 109.5h1M123 110.5h1M123 124.5h1M123 125.5h1M123 135.5h1M123 136.5h1M123 140.5h1M123 145.5h1M123 146.5h1M123 148.5h1M123 151.5h1M123 153.5h1M123 155.5h1M123 159.5h1M123 161.5h1M123 163.5h1M123 165.5h1M123 173.5h1M123 175.5h1M123 179.5h1M123 181.5h1M123 183.5h1M123 185.5h1M124 121.5h1M124 123.5h1M124 124.5h1M124 126.5h1M124 127.5h1M124 128.5h1M124 131.5h1M124 133.5h1M124 134.5h1M124 139.5h1M124 141.5h1M124 142.5h1M124 144.5h1M124 147.5h1M124 152.5h1M124 161.5h1M124 162.5h1M124 164.5h1M124 165.5h1M124 166.5h1M124 177.5h1M124 181.5h1M124 183.5h1M124 184.5h1M125 120.5h1M125 123.5h1M125 124.5h1M125 126.5h1M125 128.5h1M125 133.5h1M125 135.5h1M125 136.5h1M125 137.5h1M125 139.5h1M125 140.5h1M125 142.5h1M125 143.5h1M125 147.5h1M125 149.5h1M125 150.5h1M125 151.5h1M125 153.5h1M125 159.5h1M125 161.5h1M125 166.5h1M125 183.5h1M126 120.5h1M126 122.5h1M126 123.5h1M126 126.5h1M126 132.5h1M126 134.5h1M126 139.5h1M126 143.5h1M126 145.5h1M126 148.5h1M126 151.5h1M126 163.5h1M126 164.5h1M126 166.5h1M126 182.5h1M127 114.5h1M127 115.5h1M127 120.5h1M127 121.5h1M127 123.5h1M127 125.5h1M127 133.5h1M127 134.5h1M127 135.5h1M127 136.5h1M127 138.5h1M127 139.5h1M127 142.5h1M127 143.5h1M127 144.5h1M127 147.5h1M127 150.5h1M128 113.5h1M128 114.5h1M128 116.5h1M128 118.5h1M128 119.5h1M128 120.5h1M128 123.5h1M128 125.5h1M128 133.5h1M128 136.5h1M128 141.5h1M128 145.5h1M128 147.5h1M128 148.5h1M129 115.5h1M129 116.5h1M129 118.5h1M129 121.5h1M129 125.5h1M129 137.5h1M129 146.5h1M129 148.5h1M130 115.5h1M130 117.5h1M130 118.5h1M130 119.5h1M130 122.5h1M130 124.5h1M130 131.5h1M130 133.5h1M130 135.5h1M131 117.5h1M131 118.5h1M131 131.5h1M132 109.5h1M132 118.5h1M132 120.5h1M132 122.5h1M132 123.5h1M132 129.5h1M132 130.5h1M132 133.5h1M133 109.5h1M133 110.5h1M133 114.5h1M133 115.5h1M133 117.5h1M133 119.5h1M133 120.5h1M134 109.5h1M134 114.5h1M134 115.5h1M134 116.5h1M134 118.5h1M134 120.5h1M134 122.5h1M134 123.5h1M134 124.5h1M135 109.5h1M135 111.5h1M135 112.5h1M135 114.5h1M135 118.5h1M135 120.5h1M135 121.5h1M135 123.5h1M136 104.5h1M136 106.5h1M136 108.5h1M136 110.5h1M136 113.5h1M136 118.5h1M136 119.5h1M136 124.5h1M137 106.5h1M137 108.5h1M137 110.5h1M137 118.5h1M137 121.5h1M137 123.5h1M138 105.5h1M138 106.5h1M138 109.5h1M138 112.5h1M138 113.5h1M138 114.5h1M138 115.5h1M138 120.5h1M138 121.5h1M138 123.5h1M139 100.5h1M139 103.5h1M139 105.5h1M139 108.5h1M139 113.5h1M139 120.5h1M139 121.5h1M139 123.5h1M139 125.5h1M140 100.5h1M140 101.5h1M140 104.5h1M140 105.5h1M140 107.5h1M140 108.5h1M140 111.5h1M140 114.5h1M140 115.5h1M140 117.5h1M140 120.5h1M140 123.5h1M141 97.5h1M141 99.5h1M141 100.5h1M141 101.5h1M141 102.5h1M141 103.5h1M141 104.5h1M141 107.5h1M141 109.5h1M141 110.5h1M141 111.5h1M141 113.5h1M141 116.5h1M141 121.5h1M141 123.5h1M142 96.5h1M142 98.5h1M142 102.5h1M142 105.5h1M142 106.5h1M142 110.5h1M142 112.5h1M142 114.5h1M142 115.5h1M142 116.5h1M142 119.5h1M142 120.5h1M143 89.5h1M143 98.5h1M143 102.5h1M143 103.5h1M143 104.5h1M143 107.5h1M143 108.5h1M143 109.5h1M143 111.5h1M143 113.5h1M143 114.5h1M143 116.5h1M143 117.5h1M143 119.5h1M143 120.5h1M143 121.5h1M143 122.5h1M144 90.5h1M144 97.5h1M144 98.5h1M144 99.5h1M144 100.5h1M144 101.5h1M144 102.5h1M144 106.5h1M144 109.5h1M144 110.5h1M144 111.5h1M144 114.5h1M144 115.5h1M144 117.5h1M144 119.5h1M145 88.5h1M145 99.5h1M145 100.5h1M145 103.5h1M145 104.5h1M145 105.5h1M145 107.5h1M145 108.5h1M145 109.5h1M145 110.5h1M145 112.5h1M145 113.5h1M145 114.5h1M145 115.5h1M145 117.5h1M145 123.5h1M146 90.5h1M146 91.5h1M146 93.5h1M146 95.5h1M146 97.5h1M146 99.5h1M146 100.5h1M146 101.5h1M146 103.5h1M146 105.5h1M146 107.5h1M146 108.5h1M146 111.5h1M146 113.5h1M147 92.5h1M147 94.5h1M147 98.5h1M147 101.5h1M147 102.5h1M147 103.5h1M147 106.5h1M147 107.5h1M147 109.5h1M147 110.5h1M147 111.5h1M147 112.5h1M147 114.5h1M148 92.5h1M148 93.5h1M148 97.5h1M148 99.5h1M148 100.5h1M148 102.5h1M148 103.5h1M148 107.5h1M148 109.5h1M148 113.5h1M149 93.5h1M149 95.5h1M149 96.5h1M149 100.5h1M149 105.5h1M149 109.5h1M149 110.5h1M149 112.5h1M149 114.5h1M150 90.5h1M150 92.5h1M150 94.5h1M150 97.5h1M150 98.5h1M150 99.5h1M150 100.5h1M150 102.5h1M150 103.5h1M150 104.5h1M150 105.5h1M150 106.5h1M150 107.5h1M150 109.5h1M150 111.5h1M150 113.5h1M150 114.5h1M151 88.5h1M151 89.5h1M151 91.5h1M151 93.5h1M151 97.5h1M151 101.5h1M151 104.5h1M151 106.5h1M151 108.5h1M151 112.5h1M152 88.5h1M152 91.5h1M152 92.5h1M152 95.5h1M152 96.5h1M152 98.5h1M152 101.5h1M152 102.5h1M152 105.5h1M152 106.5h1M152 109.5h1M152 111.5h1M152 113.5h1M153 88.5h1M153 89.5h1M153 90.5h1M153 96.5h1M153 97.5h1M153 98.5h1M153 99.5h1M153 100.5h1M153 103.5h1M153 106.5h1M153 108.5h1M153 111.5h1M153 114.5h1M154 90.5h1M154 93.5h1M154 94.5h1M154 99.5h1M154 103.5h1M154 104.5h1M154 105.5h1M154 106.5h1M154 107.5h1M154 111.5h1M154 113.5h1M155 89.5h1M155 90.5h1M155 91.5h1M155 92.5h1M155 93.5h1M155 95.5h1M155 98.5h1M155 99.5h1M155 100.5h1M155 101.5h1M155 102.5h1M155 105.5h1M155 108.5h1M155 111.5h1M155 112.5h1M156 84.5h1M156 90.5h1M156 93.5h1M156 96.5h1M156 98.5h1M156 104.5h1M156 110.5h1M157 88.5h1M157 89.5h1M157 91.5h1M157 96.5h1M157 98.5h1M157 100.5h1M157 101.5h1M157 108.5h1M157 109.5h1M158 86.5h1M158 90.5h1M158 91.5h1M158 93.5h1M158 95.5h1M158 96.5h1M158 100.5h1M159 86.5h1M159 89.5h1M159 93.5h1M159 98.5h1M160 87.5h1M160 88.5h1M160 90.5h1M160 93.5h1M160 94.5h1M160 95.5h1M160 96.5h1M160 97.5h1M160 98.5h1M161 90.5h1M161 94.5h1M161 95.5h1M161 97.5h1M162 72.5h1M162 88.5h1M162 89.5h1M162 90.5h1M162 95.5h1M162 97.5h1M163 91.5h1M164 70.5h1M164 87.5h1M164 90.5h1M164 91.5h1M165 89.5h1M165 90.5h1M165 92.5h1M166 86.5h1M166 91.5h1M166 92.5h1M167 88.5h1" stroke="#444" stroke-width="1" fill="none"/>
<path d="M75.60 210.05v5.0M75.0 209.60h-5.2M88.09 210.05v3.0M75.0 195.66h-2.5M95.40 210.05v3.0M75.0 187.51h-2.5M100.59 210.05v3.0M75.0 181.72h-2.5M104.61 210.05v3.0M75.0 177.24h-2.5M107.89 210.05v3.0M75.0 173.57h-2.5M110.67 210.05v3.0M75.0 170.47h-2.5M113.08 210.05v3.0M75.0 167.79h-2.5M115.20 210.05v3.0M75.0 165.42h-2.5M117.10 210.05v5.0M75.0 163.30h-5.2M129.59 210.05v3.0M75.0 149.36h-2.5M136.90 210.05v3.0M75.0 141.21h-2.5M142.09 210.05v3.0M75.0 135.42h-2.5M146.11 210.05v3.0M75.0 130.94h-2.5M149.39 210.05v3.0M75.0 127.27h-2.5M152.17 210.05v3.0M75.0 124.17h-2.5M154.58 210.05v3.0M75.0 121.49h-2.5M156.70 210.05v3.0M75.0 119.12h-2.5M158.60 210.05v5.0M75.0 117.00h-5.2M171.09 210.05v3.0M75.0 103.06h-2.5M178.40 210.05v3.0M75.0 94.91h-2.5M183.59 210.05v3.0M75.0 89.12h-2.5M187.61 210.05v3.0M75.0 84.64h-2.5M190.89 210.05v3.0M75.0 80.97h-2.5M193.67 210.05v3.0M75.0 77.87h-2.5M196.08 210.05v3.0M75.0 75.19h-2.5M198.20 210.05v3.0M75.0 72.82h-2.5M200.10 210.05v5.0M75.0 70.70h-5.2M212.59 210.05v3.0M75.0 56.76h-2.5M219.90 210.05v3.0M75.0 48.61h-2.5M225.09 210.05v3.0M75.0 42.82h-2.5M229.11 210.05v3.0M75.0 38.34h-2.5M232.39 210.05v3.0M75.0 34.67h-2.5M235.17 210.05v3.0M75.0 31.57h-2.5M237.58 210.05v3.0M75.0 28.89h-2.5M239.70 210.05v3.0M75.0 26.52h-2.5M241.60 210.05v4.6M75.0 24.40h-5.2" stroke="#000" stroke-width="1.1" fill="none"/>
<path d="M75.0 22.8H242.5V210.05H75.0Z" stroke="#000" stroke-width="1.8" fill="none"/>
<path d="M133.4 22.8V210.05M75.0 174.6H238.8" stroke="#000" stroke-width="2.1" fill="none"/>
<path d="M333 201.5h1M334 200.5h1M335 183.5h1M336 174.5h1M336 185.5h1M336 188.5h1M336 207.5h1M337 168.5h1M337 172.5h1M337 180.5h1M337 189.5h1M337 192.5h1M337 196.5h1M337 197.5h1M337 201.5h1M337 206.5h1M337 207.5h1M338 157.5h1M338 170.5h1M338 171.5h1M338 174.5h1M338 178.5h1M338 189.5h1M338 202.5h1M338 203.5h1M339 159.5h1M339 161.5h1M339 171.5h1M339 177.5h1M339 178.5h1M339 187.5h1M340 161.5h1M340 175.5h1M341 158.5h1M341 170.5h1M341 171.5h1M341 175.5h1M341 206.5h1M341 209.5h1M342 154.5h1M342 158.5h1M342 161.5h1M342 178.5h1M343 155.5h1M343 174.5h1M343 208.5h1M343 209.5h1M344 157.5h1M344 174.5h1M344 175.5h1M344 204.5h1M345 155.5h1M345 158.5h1M346 148.5h1M346 149.5h1M346 152.5h1M346 153.5h1M346 209.5h1M347 157.5h1M347 159.5h1M347 209.5h1M348 144.5h1M352 142.5h1M354 136.5h1M355 135.5h1M355 138.5h1M356 126.5h1M356 135.5h1M357 124.5h1M357 209.5h1M358 125.5h1M358 128.5h1M358 129.5h1M359 123.5h1M359 129.5h1M359 137.5h1M360 118.5h1M360 131.5h1M360 132.5h1M360 135.5h1M361 124.5h1M361 132.5h1M361 133.5h1M361 203.5h1M362 123.5h1M362 125.5h1M363 123.5h1M363 209.5h1M364 122.5h1M364 132.5h1M365 121.5h1M365 125.5h1M365 132.5h1M365 133.5h1M365 134.5h1M365 143.5h1M365 144.5h1M365 147.5h1M366 129.5h1M366 180.5h1M366 206.5h1M366 207.5h1M366 209.5h1M367 126.5h1M367 209.5h1M368 123.5h1M368 124.5h1M368 125.5h1M368 129.5h1M368 135.5h1M368 172.5h1M368 199.5h1M368 202.5h1M368 209.5h1M369 126.5h1M369 135.5h1M369 160.5h1M369 163.5h1M369 164.5h1M369 169.5h1M369 175.5h1M369 179.5h1M369 198.5h1M369 200.5h1M370 120.5h1M370 123.5h1M370 126.5h1M370 135.5h1M370 182.5h1M370 183.5h1M370 185.5h1M370 186.5h1M370 188.5h1M370 193.5h1M370 195.5h1M371 119.5h1M371 122.5h1M371 168.5h1M371 169.5h1M371 175.5h1M371 178.5h1M371 179.5h1M371 193.5h1M372 120.5h1M372 123.5h1M372 133.5h1M372 164.5h1M372 166.5h1M372 169.5h1M372 174.5h1M372 185.5h1M373 119.5h1M373 127.5h1M373 128.5h1M373 132.5h1M373 138.5h1M373 156.5h1M373 157.5h1M373 163.5h1M373 164.5h1M373 175.5h1M373 182.5h1M373 185.5h1M373 186.5h1M373 195.5h1M373 197.5h1M374 124.5h1M374 138.5h1M374 140.5h1M374 141.5h1M374 151.5h1M374 153.5h1M374 157.5h1M374 175.5h1M374 176.5h1M375 122.5h1M375 124.5h1M375 126.5h1M375 130.5h1M375 142.5h1M375 149.5h1M375 187.5h1M375 199.5h1M376 114.5h1M376 115.5h1M376 127.5h1M376 128.5h1M376 129.5h1M377 111.5h1M377 134.5h1M377 136.5h1M377 137.5h1M377 139.5h1M377 149.5h1M378 110.5h1M378 112.5h1M378 113.5h1M378 117.5h1M378 121.5h1M378 122.5h1M378 123.5h1M378 139.5h1M378 143.5h1M378 144.5h1M378 145.5h1M378 150.5h1M379 92.5h1M379 113.5h1M379 127.5h1M379 134.5h1M379 148.5h1M379 150.5h1M379 161.5h1M379 163.5h1M380 108.5h1M380 134.5h1M380 141.5h1M380 146.5h1M381 137.5h1M381 140.5h1M381 143.5h1M382 111.5h1M382 112.5h1M382 116.5h1M382 131.5h1M382 132.5h1M382 138.5h1M382 141.5h1M383 112.5h1M383 134.5h1M383 136.5h1M383 140.5h1M383 141.5h1M384 131.5h1M384 134.5h1M384 139.5h1M385 104.5h1M385 110.5h1M385 115.5h1M385 120.5h1M385 125.5h1M385 132.5h1M385 133.5h1M385 140.5h1M386 118.5h1M386 123.5h1M386 130.5h1M387 93.5h1M387 104.5h1M387 112.5h1M387 114.5h1M387 119.5h1M387 131.5h1M388 95.5h1M388 117.5h1M388 122.5h1M388 132.5h1M389 100.5h1M389 102.5h1M389 103.5h1M389 107.5h1M389 109.5h1M389 115.5h1M389 119.5h1M389 122.5h1M389 131.5h1M389 132.5h1M390 99.5h1M390 102.5h1M390 106.5h1M390 112.5h1M390 119.5h1M391 103.5h1M391 113.5h1M391 116.5h1M391 119.5h1M392 97.5h1M392 116.5h1M392 122.5h1M392 124.5h1M393 95.5h1M393 100.5h1M393 102.5h1M393 116.5h1M393 123.5h1M394 89.5h1M394 92.5h1M394 94.5h1M394 100.5h1M394 104.5h1M394 105.5h1M394 117.5h1M394 118.5h1M395 94.5h1M395 113.5h1M396 91.5h1M396 98.5h1M396 99.5h1M397 94.5h1M397 95.5h1M397 96.5h1M397 99.5h1M397 113.5h1M397 114.5h1M398 90.5h1M398 95.5h1M399 87.5h1M399 91.5h1M399 116.5h1M399 118.5h1M400 86.5h1M400 92.5h1M400 93.5h1M400 109.5h1M400 116.5h1M401 86.5h1M401 115.5h1M401 116.5h1M402 85.5h1M402 86.5h1M402 90.5h1M402 113.5h1M403 87.5h1M403 94.5h1M403 110.5h1M403 111.5h1M403 112.5h1M404 87.5h1M404 106.5h1M404 109.5h1M404 114.5h1M405 83.5h1M405 99.5h1M405 113.5h1M405 114.5h1M405 116.5h1M406 85.5h1M406 114.5h1M407 72.5h1M407 73.5h1M407 85.5h1M407 87.5h1M407 105.5h1M407 108.5h1M407 109.5h1M407 110.5h1M407 112.5h1M408 74.5h1M408 85.5h1M409 71.5h1M409 74.5h1M409 84.5h1M410 82.5h1M410 103.5h1M411 84.5h1M411 91.5h1M411 103.5h1M411 106.5h1M411 107.5h1M411 113.5h1M411 114.5h1M412 91.5h1M412 100.5h1M413 66.5h1M413 81.5h1M413 85.5h1M413 97.5h1M413 99.5h1M413 100.5h1M413 104.5h1M413 107.5h1M413 113.5h1M414 67.5h1M414 85.5h1M414 89.5h1M414 103.5h1M415 66.5h1M415 96.5h1M415 98.5h1M416 81.5h1M416 82.5h1M416 85.5h1M416 89.5h1M416 102.5h1M416 103.5h1M417 82.5h1M417 86.5h1M417 87.5h1M417 91.5h1M417 93.5h1M418 75.5h1M418 88.5h1M418 102.5h1M418 105.5h1M419 53.5h1M419 55.5h1M419 58.5h1M419 95.5h1M420 59.5h1M420 88.5h1M420 94.5h1M420 96.5h1M421 59.5h1M421 60.5h1M421 90.5h1M421 92.5h1M421 93.5h1M421 97.5h1M421 98.5h1M422 90.5h1M422 96.5h1M424 73.5h1M424 74.5h1M424 78.5h1M425 76.5h1M425 80.5h1M425 82.5h1M426 42.5h1M426 44.5h1M426 73.5h1M426 77.5h1M426 81.5h1M426 82.5h1M427 75.5h1M427 77.5h1M428 42.5h1M428 43.5h1M428 58.5h1M430 54.5h1M430 56.5h1M431 54.5h1M431 56.5h1" stroke="#5c5c5c" stroke-width="1" fill="none"/>
<path d="M327 206.5h1M328 145.5h1M328 185.5h1M329 190.5h1M329 197.5h1M330 205.5h1M331 167.5h1M331 186.5h1M332 196.5h1M332 199.5h1M333 169.5h1M333 184.5h1M334 161.5h1M334 166.5h1M334 179.5h1M334 192.5h1M334 193.5h1M334 196.5h1M334 202.5h1M334 208.5h1M335 129.5h1M335 175.5h1M335 179.5h1M335 188.5h1M336 143.5h1M337 167.5h1M338 140.5h1M338 146.5h1M339 131.5h1M339 155.5h1M339 166.5h1M340 138.5h1M340 139.5h1M340 148.5h1M340 154.5h1M340 209.5h1M342 143.5h1M342 150.5h1M344 136.5h1M346 115.5h1M347 113.5h1M347 135.5h1M347 137.5h1M348 123.5h1M348 138.5h1M348 142.5h1M349 117.5h1M349 140.5h1M350 86.5h1M350 116.5h1M351 131.5h1M352 130.5h1M352 133.5h1M355 130.5h1M357 122.5h1M358 118.5h1M361 96.5h1M361 117.5h1M362 118.5h1M363 129.5h1M364 109.5h1M365 126.5h1M367 120.5h1M368 112.5h1M368 119.5h1M369 116.5h1M369 203.5h1M370 111.5h1M370 172.5h1M370 209.5h1M371 96.5h1M371 105.5h1M371 206.5h1M372 86.5h1M372 160.5h1M372 198.5h1M373 161.5h1M373 188.5h1M373 193.5h1M373 203.5h1M374 103.5h1M374 171.5h1M374 181.5h1M374 202.5h1M375 102.5h1M375 152.5h1M375 167.5h1M375 170.5h1M376 105.5h1M376 118.5h1M376 190.5h1M377 78.5h1M377 159.5h1M377 164.5h1M377 170.5h1M377 183.5h1M377 197.5h1M377 200.5h1M378 90.5h1M378 98.5h1M378 131.5h1M378 182.5h1M378 183.5h1M379 56.5h1M379 91.5h1M379 96.5h1M379 106.5h1M379 107.5h1M379 116.5h1M379 155.5h1M379 165.5h1M380 94.5h1M380 103.5h1M380 160.5h1M380 169.5h1M380 201.5h1M380 208.5h1M381 157.5h1M382 107.5h1M382 145.5h1M383 129.5h1M385 93.5h1M385 106.5h1M386 87.5h1M386 102.5h1M386 109.5h1M386 128.5h1M386 140.5h1M387 87.5h1M387 137.5h1M388 179.5h1M389 44.5h1M389 93.5h1M389 96.5h1M389 99.5h1M389 126.5h1M389 137.5h1M389 140.5h1M389 143.5h1M389 144.5h1M390 80.5h1M391 132.5h1M392 62.5h1M392 70.5h1M392 74.5h1M392 75.5h1M392 81.5h1M392 129.5h1M392 135.5h1M393 62.5h1M393 88.5h1M393 97.5h1M394 74.5h1M394 148.5h1M395 77.5h1M395 87.5h1M395 129.5h1M396 117.5h1M396 121.5h1M397 131.5h1M398 70.5h1M398 84.5h1M398 130.5h1M399 65.5h1M399 81.5h1M399 82.5h1M399 121.5h1M400 57.5h1M400 77.5h1M401 65.5h1M401 121.5h1M401 145.5h1M402 69.5h1M402 76.5h1M402 82.5h1M402 125.5h1M402 127.5h1M404 119.5h1M404 127.5h1M405 32.5h1M405 45.5h1M405 50.5h1M405 62.5h1M405 73.5h1M405 117.5h1M405 120.5h1M406 69.5h1M406 78.5h1M407 69.5h1M407 82.5h1M407 126.5h1M408 43.5h1M408 116.5h1M408 122.5h1M409 44.5h1M409 55.5h1M409 117.5h1M410 48.5h1M410 52.5h1M410 71.5h1M410 80.5h1M410 112.5h1M411 41.5h1M411 57.5h1M411 75.5h1M412 34.5h1M412 65.5h1M412 120.5h1M413 61.5h1M413 69.5h1M413 88.5h1M414 77.5h1M415 110.5h1M415 114.5h1M416 66.5h1M416 77.5h1M416 97.5h1M416 107.5h1M416 109.5h1M417 35.5h1M417 48.5h1M417 58.5h1M417 63.5h1M418 27.5h1M418 40.5h1M418 53.5h1M418 63.5h1M418 74.5h1M419 41.5h1M419 79.5h1M419 101.5h1M419 105.5h1M420 77.5h1M421 46.5h1M421 53.5h1M421 71.5h1M421 87.5h1M422 69.5h1M422 70.5h1M423 49.5h1M423 57.5h1M423 62.5h1M423 87.5h1M423 101.5h1M424 62.5h1M424 84.5h1M424 104.5h1M425 50.5h1M425 52.5h1M426 71.5h1M426 90.5h1M426 93.5h1M426 98.5h1M427 33.5h1M427 59.5h1M427 64.5h1M427 87.5h1M428 48.5h1M428 60.5h1M428 78.5h1M428 96.5h1M429 70.5h1M429 71.5h1M429 81.5h1M429 87.5h1M431 51.5h1M432 68.5h1M432 79.5h1M432 83.5h1M433 45.5h1M433 60.5h1M434 67.5h1M434 88.5h1M435 57.5h1M435 73.5h1M436 51.5h1M436 61.5h1M436 62.5h1M437 55.5h1M437 73.5h1M439 31.5h1M439 76.5h1M439 146.5h1M440 74.5h1M441 38.5h1M441 57.5h1M442 44.5h1M443 39.5h1M444 68.5h1M446 45.5h1M446 46.5h1M454 66.5h1M455 130.5h1M460 75.5h1M464 131.5h1M467 195.5h1M477 41.5h1M481 148.5h1" stroke="#7a7a7a" stroke-width="1" fill="none"/>
<path d="M337 183.5h1M337 184.5h1M338 182.5h1M338 184.5h1M338 186.5h1M338 191.5h1M339 182.5h1M339 183.5h1M339 185.5h1M339 191.5h1M339 192.5h1M339 194.5h1M339 197.5h1M339 198.5h1M339 199.5h1M339 205.5h1M340 159.5h1M340 181.5h1M340 182.5h1M340 185.5h1M340 190.5h1M340 193.5h1M340 194.5h1M340 196.5h1M340 199.5h1M340 200.5h1M340 203.5h1M340 204.5h1M341 169.5h1M341 179.5h1M341 184.5h1M341 190.5h1M341 191.5h1M341 192.5h1M341 197.5h1M341 202.5h1M341 204.5h1M342 160.5h1M342 167.5h1M342 169.5h1M342 181.5h1M342 182.5h1M342 183.5h1M342 186.5h1M342 187.5h1M342 188.5h1M342 189.5h1M342 193.5h1M342 196.5h1M342 198.5h1M342 199.5h1M342 201.5h1M343 156.5h1M343 162.5h1M343 163.5h1M343 164.5h1M343 166.5h1M343 167.5h1M343 169.5h1M343 170.5h1M343 178.5h1M343 179.5h1M343 180.5h1M343 184.5h1M343 186.5h1M343 188.5h1M343 191.5h1M343 195.5h1M343 196.5h1M343 197.5h1M343 199.5h1M343 200.5h1M343 201.5h1M343 205.5h1M343 206.5h1M344 162.5h1M344 164.5h1M344 165.5h1M344 169.5h1M344 172.5h1M344 177.5h1M344 181.5h1M344 184.5h1M344 186.5h1M344 189.5h1M344 190.5h1M344 192.5h1M344 197.5h1M344 201.5h1M344 207.5h1M345 163.5h1M345 166.5h1M345 167.5h1M345 169.5h1M345 178.5h1M345 179.5h1M345 180.5h1M345 181.5h1M345 183.5h1M345 185.5h1M345 191.5h1M345 193.5h1M345 194.5h1M345 195.5h1M345 197.5h1M345 199.5h1M345 201.5h1M345 203.5h1M345 204.5h1M345 209.5h1M346 162.5h1M346 164.5h1M346 170.5h1M346 171.5h1M346 172.5h1M346 174.5h1M346 178.5h1M346 182.5h1M346 185.5h1M346 186.5h1M346 187.5h1M346 188.5h1M346 189.5h1M346 190.5h1M346 191.5h1M346 192.5h1M346 194.5h1M346 195.5h1M346 197.5h1M346 198.5h1M346 201.5h1M346 203.5h1M346 206.5h1M346 208.5h1M347 150.5h1M347 152.5h1M347 164.5h1M347 165.5h1M347 168.5h1M347 171.5h1M347 173.5h1M347 174.5h1M347 176.5h1M347 178.5h1M347 180.5h1M347 181.5h1M347 182.5h1M347 184.5h1M347 186.5h1M347 190.5h1M347 196.5h1M347 198.5h1M347 200.5h1M347 202.5h1M347 206.5h1M347 208.5h1M348 147.5h1M348 148.5h1M348 149.5h1M348 150.5h1M348 152.5h1M348 156.5h1M348 158.5h1M348 161.5h1M348 163.5h1M348 165.5h1M348 167.5h1M348 168.5h1M348 170.5h1M348 171.5h1M348 172.5h1M348 176.5h1M348 178.5h1M348 179.5h1M348 180.5h1M348 182.5h1M348 184.5h1M348 186.5h1M348 187.5h1M348 188.5h1M348 191.5h1M348 192.5h1M348 193.5h1M348 195.5h1M348 196.5h1M348 200.5h1M348 203.5h1M348 204.5h1M348 205.5h1M348 206.5h1M348 208.5h1M349 149.5h1M349 151.5h1M349 154.5h1M349 157.5h1M349 162.5h1M349 163.5h1M349 166.5h1M349 168.5h1M349 170.5h1M349 173.5h1M349 175.5h1M349 176.5h1M349 177.5h1M349 179.5h1M349 180.5h1M349 182.5h1M349 184.5h1M349 186.5h1M349 189.5h1M349 190.5h1M349 193.5h1M349 195.5h1M349 196.5h1M349 197.5h1M349 198.5h1M349 199.5h1M349 200.5h1M349 202.5h1M349 209.5h1M350 145.5h1M350 146.5h1M350 148.5h1M350 150.5h1M350 153.5h1M350 155.5h1M350 157.5h1M350 158.5h1M350 160.5h1M350 162.5h1M350 165.5h1M350 167.5h1M350 169.5h1M350 170.5h1M350 172.5h1M350 178.5h1M350 182.5h1M350 184.5h1M350 186.5h1M350 188.5h1M350 190.5h1M350 191.5h1M350 192.5h1M350 193.5h1M350 199.5h1M350 202.5h1M350 204.5h1M350 206.5h1M350 207.5h1M350 209.5h1M351 144.5h1M351 145.5h1M351 146.5h1M351 148.5h1M351 151.5h1M351 152.5h1M351 155.5h1M351 158.5h1M351 159.5h1M351 160.5h1M351 163.5h1M351 165.5h1M351 166.5h1M351 167.5h1M351 171.5h1M351 172.5h1M351 173.5h1M351 174.5h1M351 175.5h1M351 177.5h1M351 180.5h1M351 181.5h1M351 183.5h1M351 184.5h1M351 186.5h1M351 188.5h1M351 191.5h1M351 193.5h1M351 195.5h1M351 196.5h1M351 198.5h1M351 199.5h1M351 200.5h1M351 202.5h1M351 204.5h1M351 205.5h1M351 207.5h1M351 208.5h1M352 144.5h1M352 146.5h1M352 154.5h1M352 156.5h1M352 161.5h1M352 162.5h1M352 163.5h1M352 168.5h1M352 169.5h1M352 170.5h1M352 175.5h1M352 177.5h1M352 178.5h1M352 179.5h1M352 180.5h1M352 181.5h1M352 182.5h1M352 184.5h1M352 186.5h1M352 188.5h1M352 189.5h1M352 191.5h1M352 192.5h1M352 195.5h1M352 196.5h1M352 198.5h1M352 202.5h1M352 205.5h1M352 207.5h1M352 209.5h1M353 142.5h1M353 143.5h1M353 146.5h1M353 147.5h1M353 149.5h1M353 150.5h1M353 152.5h1M353 154.5h1M353 156.5h1M353 158.5h1M353 159.5h1M353 161.5h1M353 164.5h1M353 165.5h1M353 166.5h1M353 169.5h1M353 171.5h1M353 173.5h1M353 174.5h1M353 176.5h1M353 184.5h1M353 186.5h1M353 187.5h1M353 188.5h1M353 189.5h1M353 191.5h1M353 193.5h1M353 194.5h1M353 195.5h1M353 197.5h1M353 199.5h1M353 200.5h1M353 202.5h1M353 203.5h1M353 205.5h1M353 208.5h1M353 209.5h1M354 142.5h1M354 144.5h1M354 145.5h1M354 148.5h1M354 149.5h1M354 151.5h1M354 152.5h1M354 154.5h1M354 155.5h1M354 156.5h1M354 160.5h1M354 162.5h1M354 164.5h1M354 167.5h1M354 171.5h1M354 172.5h1M354 175.5h1M354 176.5h1M354 178.5h1M354 179.5h1M354 180.5h1M354 181.5h1M354 182.5h1M354 183.5h1M354 184.5h1M354 189.5h1M354 193.5h1M354 195.5h1M354 197.5h1M354 199.5h1M354 200.5h1M354 203.5h1M354 205.5h1M354 206.5h1M354 207.5h1M355 140.5h1M355 141.5h1M355 142.5h1M355 147.5h1M355 149.5h1M355 150.5h1M355 151.5h1M355 154.5h1M355 156.5h1M355 158.5h1M355 159.5h1M355 162.5h1M355 164.5h1M355 166.5h1M355 168.5h1M355 169.5h1M355 170.5h1M355 173.5h1M355 174.5h1M355 176.5h1M355 178.5h1M355 180.5h1M355 181.5h1M355 185.5h1M355 186.5h1M355 187.5h1M355 189.5h1M355 191.5h1M355 193.5h1M355 195.5h1M355 197.5h1M355 199.5h1M355 202.5h1M355 204.5h1M355 208.5h1M355 209.5h1M356 137.5h1M356 143.5h1M356 144.5h1M356 147.5h1M356 151.5h1M356 153.5h1M356 156.5h1M356 158.5h1M356 160.5h1M356 161.5h1M356 163.5h1M356 165.5h1M356 166.5h1M356 168.5h1M356 171.5h1M356 173.5h1M356 174.5h1M356 176.5h1M356 177.5h1M356 179.5h1M356 181.5h1M356 182.5h1M356 184.5h1M356 185.5h1M356 188.5h1M356 190.5h1M356 191.5h1M356 193.5h1M356 194.5h1M356 196.5h1M356 197.5h1M356 199.5h1M356 200.5h1M356 201.5h1M356 205.5h1M356 208.5h1M357 137.5h1M357 139.5h1M357 140.5h1M357 141.5h1M357 143.5h1M357 145.5h1M357 148.5h1M357 149.5h1M357 150.5h1M357 151.5h1M357 153.5h1M357 154.5h1M357 156.5h1M357 158.5h1M357 161.5h1M357 162.5h1M357 163.5h1M357 167.5h1M357 170.5h1M357 172.5h1M357 174.5h1M357 177.5h1M357 179.5h1M357 181.5h1M357 183.5h1M357 184.5h1M357 186.5h1M357 187.5h1M357 189.5h1M357 190.5h1M357 192.5h1M357 195.5h1M357 197.5h1M357 199.5h1M357 202.5h1M357 203.5h1M357 205.5h1M357 206.5h1M357 207.5h1M358 137.5h1M358 140.5h1M358 141.5h1M358 142.5h1M358 145.5h1M358 146.5h1M358 151.5h1M358 153.5h1M358 155.5h1M358 157.5h1M358 159.5h1M358 165.5h1M358 166.5h1M358 168.5h1M358 169.5h1M358 172.5h1M358 174.5h1M358 175.5h1M358 176.5h1M358 177.5h1M358 181.5h1M358 185.5h1M358 188.5h1M358 193.5h1M358 195.5h1M358 197.5h1M358 199.5h1M358 201.5h1M358 202.5h1M358 203.5h1M358 206.5h1M358 207.5h1M358 208.5h1M359 144.5h1M359 146.5h1M359 147.5h1M359 149.5h1M359 151.5h1M359 152.5h1M359 157.5h1M359 158.5h1M359 160.5h1M359 162.5h1M359 163.5h1M359 165.5h1M359 168.5h1M359 170.5h1M359 171.5h1M359 173.5h1M359 176.5h1M359 179.5h1M359 180.5h1M359 182.5h1M359 183.5h1M359 185.5h1M359 186.5h1M359 187.5h1M359 188.5h1M359 189.5h1M359 191.5h1M359 192.5h1M359 193.5h1M359 195.5h1M359 196.5h1M359 197.5h1M359 199.5h1M359 200.5h1M359 204.5h1M360 138.5h1M360 140.5h1M360 142.5h1M360 145.5h1M360 147.5h1M360 153.5h1M360 154.5h1M360 156.5h1M360 160.5h1M360 161.5h1M360 163.5h1M360 164.5h1M360 166.5h1M360 169.5h1M360 171.5h1M360 172.5h1M360 173.5h1M360 175.5h1M360 176.5h1M360 178.5h1M360 179.5h1M360 181.5h1M360 183.5h1M360 189.5h1M360 190.5h1M360 191.5h1M360 193.5h1M360 195.5h1M360 198.5h1M360 203.5h1M360 206.5h1M360 207.5h1M360 208.5h1M361 139.5h1M361 140.5h1M361 142.5h1M361 143.5h1M361 144.5h1M361 147.5h1M361 149.5h1M361 150.5h1M361 151.5h1M361 153.5h1M361 155.5h1M361 156.5h1M361 157.5h1M361 158.5h1M361 159.5h1M361 162.5h1M361 163.5h1M361 166.5h1M361 168.5h1M361 169.5h1M361 171.5h1M361 173.5h1M361 175.5h1M361 177.5h1M361 180.5h1M361 181.5h1M361 185.5h1M361 188.5h1M361 191.5h1M361 193.5h1M361 197.5h1M361 200.5h1M361 201.5h1M361 202.5h1M361 207.5h1M361 208.5h1M362 139.5h1M362 141.5h1M362 145.5h1M362 146.5h1M362 147.5h1M362 150.5h1M362 152.5h1M362 159.5h1M362 161.5h1M362 164.5h1M362 165.5h1M362 166.5h1M362 169.5h1M362 171.5h1M362 173.5h1M362 175.5h1M362 178.5h1M362 179.5h1M362 182.5h1M362 183.5h1M362 184.5h1M362 185.5h1M362 186.5h1M362 187.5h1M362 188.5h1M362 190.5h1M362 193.5h1M362 194.5h1M362 195.5h1M362 196.5h1M362 197.5h1M362 198.5h1M362 200.5h1M362 206.5h1M362 208.5h1M363 138.5h1M363 139.5h1M363 146.5h1M363 150.5h1M363 152.5h1M363 154.5h1M363 157.5h1M363 158.5h1M363 159.5h1M363 160.5h1M363 162.5h1M363 164.5h1M363 166.5h1M363 168.5h1M363 169.5h1M363 171.5h1M363 172.5h1M363 175.5h1M363 177.5h1M363 179.5h1M363 180.5h1M363 181.5h1M363 182.5h1M363 186.5h1M363 189.5h1M363 190.5h1M363 193.5h1M363 194.5h1M363 199.5h1M363 200.5h1M363 203.5h1M363 205.5h1M364 140.5h1M364 141.5h1M364 147.5h1M364 148.5h1M364 150.5h1M364 151.5h1M364 152.5h1M364 155.5h1M364 157.5h1M364 166.5h1M364 168.5h1M364 171.5h1M364 175.5h1M364 182.5h1M364 184.5h1M364 188.5h1M364 189.5h1M364 190.5h1M364 192.5h1M364 193.5h1M364 195.5h1M364 196.5h1M364 199.5h1M364 202.5h1M364 204.5h1M364 206.5h1M365 131.5h1M365 137.5h1M365 138.5h1M365 139.5h1M365 142.5h1M365 151.5h1M365 153.5h1M365 154.5h1M365 156.5h1M365 157.5h1M365 158.5h1M365 160.5h1M365 162.5h1M365 163.5h1M365 164.5h1M365 168.5h1M365 170.5h1M365 171.5h1M365 173.5h1M365 174.5h1M365 176.5h1M365 177.5h1M365 178.5h1M365 180.5h1M365 182.5h1M365 183.5h1M365 184.5h1M365 186.5h1M365 188.5h1M365 192.5h1M365 194.5h1M365 199.5h1M365 200.5h1M365 202.5h1M365 203.5h1M366 136.5h1M366 138.5h1M366 140.5h1M366 141.5h1M366 148.5h1M366 150.5h1M366 151.5h1M366 152.5h1M366 154.5h1M366 157.5h1M366 161.5h1M366 162.5h1M366 163.5h1M366 165.5h1M366 166.5h1M366 168.5h1M366 171.5h1M366 173.5h1M366 175.5h1M366 185.5h1M366 186.5h1M366 190.5h1M366 191.5h1M366 194.5h1M366 195.5h1M366 196.5h1M366 197.5h1M366 198.5h1M366 203.5h1M366 205.5h1M367 132.5h1M367 133.5h1M367 137.5h1M367 140.5h1M367 143.5h1M367 144.5h1M367 146.5h1M367 150.5h1M367 154.5h1M367 162.5h1M367 169.5h1M367 170.5h1M367 171.5h1M367 173.5h1M367 175.5h1M367 177.5h1M367 182.5h1M367 183.5h1M367 184.5h1M367 185.5h1M367 189.5h1M367 198.5h1M367 204.5h1M368 130.5h1M368 138.5h1M368 140.5h1M368 142.5h1M368 144.5h1M368 146.5h1M368 147.5h1M368 149.5h1M368 152.5h1M368 154.5h1M368 157.5h1M368 158.5h1M368 159.5h1M368 160.5h1M368 164.5h1M368 166.5h1M368 182.5h1M368 188.5h1M368 189.5h1M368 190.5h1M368 191.5h1M368 192.5h1M368 193.5h1M368 194.5h1M369 129.5h1M369 131.5h1M369 132.5h1M369 133.5h1M369 138.5h1M369 141.5h1M369 142.5h1M369 144.5h1M369 147.5h1M369 149.5h1M369 150.5h1M369 152.5h1M369 154.5h1M369 158.5h1M369 180.5h1M369 186.5h1M369 187.5h1M370 128.5h1M370 131.5h1M370 138.5h1M370 139.5h1M370 140.5h1M370 141.5h1M370 144.5h1M370 145.5h1M370 149.5h1M370 154.5h1M370 155.5h1M370 156.5h1M370 157.5h1M370 158.5h1M370 165.5h1M370 166.5h1M370 167.5h1M370 180.5h1M371 121.5h1M371 127.5h1M371 129.5h1M371 131.5h1M371 138.5h1M371 140.5h1M371 143.5h1M371 147.5h1M371 150.5h1M371 151.5h1M371 152.5h1M371 155.5h1M371 183.5h1M372 131.5h1M372 137.5h1M372 139.5h1M372 141.5h1M372 143.5h1M372 145.5h1M372 147.5h1M372 149.5h1M372 151.5h1M372 155.5h1M372 157.5h1M372 176.5h1M372 177.5h1M372 181.5h1M373 121.5h1M373 131.5h1M373 143.5h1M373 145.5h1M373 146.5h1M373 147.5h1M373 149.5h1M374 129.5h1M374 144.5h1M375 145.5h1M375 147.5h1M376 144.5h1M377 146.5h1M377 148.5h1M378 125.5h1M379 120.5h1M379 122.5h1M379 125.5h1M379 126.5h1M379 136.5h1M379 137.5h1M379 138.5h1M380 113.5h1M380 125.5h1M380 127.5h1M381 111.5h1M381 113.5h1M381 118.5h1M381 119.5h1M381 120.5h1M381 121.5h1M381 122.5h1M381 124.5h1M381 126.5h1M381 135.5h1M382 113.5h1M382 115.5h1M382 118.5h1M382 123.5h1M382 125.5h1M383 115.5h1M383 116.5h1M383 120.5h1M383 121.5h1M383 123.5h1M383 124.5h1M384 117.5h1M384 122.5h1M385 117.5h1M385 119.5h1M389 104.5h1M389 110.5h1M389 112.5h1M389 114.5h1M390 107.5h1M390 110.5h1M390 122.5h1M390 124.5h1M391 105.5h1M391 106.5h1M391 108.5h1M391 110.5h1M391 121.5h1M391 124.5h1M392 109.5h1M393 106.5h1M393 108.5h1M393 111.5h1M394 101.5h1M394 108.5h1M394 109.5h1M395 103.5h1M395 107.5h1M395 110.5h1M395 111.5h1M395 112.5h1M396 101.5h1M396 103.5h1M396 104.5h1M396 109.5h1M397 102.5h1M397 104.5h1M397 107.5h1M397 108.5h1M397 111.5h1M398 99.5h1M398 103.5h1M398 106.5h1M398 108.5h1M398 110.5h1M399 97.5h1M399 99.5h1M399 103.5h1M399 106.5h1M399 109.5h1M400 91.5h1M400 97.5h1M400 98.5h1M400 100.5h1M400 101.5h1M400 103.5h1M400 105.5h1M400 108.5h1M401 89.5h1M401 98.5h1M401 100.5h1M401 102.5h1M401 105.5h1M401 106.5h1M401 107.5h1M401 108.5h1M402 91.5h1M402 97.5h1M402 98.5h1M402 101.5h1M402 103.5h1M402 105.5h1M403 91.5h1M403 93.5h1M403 95.5h1M403 103.5h1M403 106.5h1M403 108.5h1M404 90.5h1M404 94.5h1M404 96.5h1M404 98.5h1M404 102.5h1M404 104.5h1M405 88.5h1M405 91.5h1M405 92.5h1M405 93.5h1M405 97.5h1M405 102.5h1M405 104.5h1M405 105.5h1M406 89.5h1M406 90.5h1M406 94.5h1M406 96.5h1M406 97.5h1M406 98.5h1M406 102.5h1M407 90.5h1M407 92.5h1M407 93.5h1M407 96.5h1M407 98.5h1M407 101.5h1M407 102.5h1M407 104.5h1M407 106.5h1M407 107.5h1M408 91.5h1M408 93.5h1M408 95.5h1M408 99.5h1M408 100.5h1M408 102.5h1M409 92.5h1M409 95.5h1M409 96.5h1M409 99.5h1M409 107.5h1M409 108.5h1M410 92.5h1M410 94.5h1M410 96.5h1M410 100.5h1M410 101.5h1M411 92.5h1M411 95.5h1M411 96.5h1M411 100.5h1M411 105.5h1M412 84.5h1M412 92.5h1M412 94.5h1M412 98.5h1M413 82.5h1M413 84.5h1M413 94.5h1M414 82.5h1M414 84.5h1M414 91.5h1M414 94.5h1M415 82.5h1M415 86.5h1M415 92.5h1M415 93.5h1M416 90.5h1M416 92.5h1" stroke="#000" stroke-opacity="0.1" stroke-width="2.2" stroke-linecap="square" fill="none"/>
<path d="M337 183.5h1M337 184.5h1M338 182.5h1M338 184.5h1M338 186.5h1M338 191.5h1M339 182.5h1M339 183.5h1M339 185.5h1M339 191.5h1M339 192.5h1M339 194.5h1M339 197.5h1M339 198.5h1M339 199.5h1M339 205.5h1M340 159.5h1M340 181.5h1M340 182.5h1M340 185.5h1M340 190.5h1M340 193.5h1M340 194.5h1M340 196.5h1M340 199.5h1M340 200.5h1M340 203.5h1M340 204.5h1M341 169.5h1M341 179.5h1M341 184.5h1M341 190.5h1M341 191.5h1M341 192.5h1M341 197.5h1M341 202.5h1M341 204.5h1M342 160.5h1M342 167.5h1M342 169.5h1M342 181.5h1M342 182.5h1M342 183.5h1M342 186.5h1M342 187.5h1M342 188.5h1M342 189.5h1M342 193.5h1M342 196.5h1M342 198.5h1M342 199.5h1M342 201.5h1M343 156.5h1M343 162.5h1M343 163.5h1M343 164.5h1M343 166.5h1M343 167.5h1M343 169.5h1M343 170.5h1M343 178.5h1M343 179.5h1M343 180.5h1M343 184.5h1M343 186.5h1M343 188.5h1M343 191.5h1M343 195.5h1M343 196.5h1M343 197.5h1M343 199.5h1M343 200.5h1M343 201.5h1M343 205.5h1M343 206.5h1M344 162.5h1M344 164.5h1M344 165.5h1M344 169.5h1M344 172.5h1M344 177.5h1M344 181.5h1M344 184.5h1M344 186.5h1M344 189.5h1M344 190.5h1M344 192.5h1M344 197.5h1M344 201.5h1M344 207.5h1M345 163.5h1M345 166.5h1M345 167.5h1M345 169.5h1M345 178.5h1M345 179.5h1M345 180.5h1M345 181.5h1M345 183.5h1M345 185.5h1M345 191.5h1M345 193.5h1M345 194.5h1M345 195.5h1M345 197.5h1M345 199.5h1M345 201.5h1M345 203.5h1M345 204.5h1M345 209.5h1M346 162.5h1M346 164.5h1M346 170.5h1M346 171.5h1M346 172.5h1M346 174.5h1M346 178.5h1M346 182.5h1M346 185.5h1M346 186.5h1M346 187.5h1M346 188.5h1M346 189.5h1M346 190.5h1M346 191.5h1M346 192.5h1M346 194.5h1M346 195.5h1M346 197.5h1M346 198.5h1M346 201.5h1M346 203.5h1M346 206.5h1M346 208.5h1M347 150.5h1M347 152.5h1M347 164.5h1M347 165.5h1M347 168.5h1M347 171.5h1M347 173.5h1M347 174.5h1M347 176.5h1M347 178.5h1M347 180.5h1M347 181.5h1M347 182.5h1M347 184.5h1M347 186.5h1M347 190.5h1M347 196.5h1M347 198.5h1M347 200.5h1M347 202.5h1M347 206.5h1M347 208.5h1M348 147.5h1M348 148.5h1M348 149.5h1M348 150.5h1M348 152.5h1M348 156.5h1M348 158.5h1M348 161.5h1M348 163.5h1M348 165.5h1M348 167.5h1M348 168.5h1M348 170.5h1M348 171.5h1M348 172.5h1M348 176.5h1M348 178.5h1M348 179.5h1M348 180.5h1M348 182.5h1M348 184.5h1M348 186.5h1M348 187.5h1M348 188.5h1M348 191.5h1M348 192.5h1M348 193.5h1M348 195.5h1M348 196.5h1M348 200.5h1M348 203.5h1M348 204.5h1M348 205.5h1M348 206.5h1M348 208.5h1M349 149.5h1M349 151.5h1M349 154.5h1M349 157.5h1M349 162.5h1M349 163.5h1M349 166.5h1M349 168.5h1M349 170.5h1M349 173.5h1M349 175.5h1M349 176.5h1M349 177.5h1M349 179.5h1M349 180.5h1M349 182.5h1M349 184.5h1M349 186.5h1M349 189.5h1M349 190.5h1M349 193.5h1M349 195.5h1M349 196.5h1M349 197.5h1M349 198.5h1M349 199.5h1M349 200.5h1M349 202.5h1M349 209.5h1M350 145.5h1M350 146.5h1M350 148.5h1M350 150.5h1M350 153.5h1M350 155.5h1M350 157.5h1M350 158.5h1M350 160.5h1M350 162.5h1M350 165.5h1M350 167.5h1M350 169.5h1M350 170.5h1M350 172.5h1M350 178.5h1M350 182.5h1M350 184.5h1M350 186.5h1M350 188.5h1M350 190.5h1M350 191.5h1M350 192.5h1M350 193.5h1M350 199.5h1M350 202.5h1M350 204.5h1M350 206.5h1M350 207.5h1M350 209.5h1M351 144.5h1M351 145.5h1M351 146.5h1M351 148.5h1M351 151.5h1M351 152.5h1M351 155.5h1M351 158.5h1M351 159.5h1M351 160.5h1M351 163.5h1M351 165.5h1M351 166.5h1M351 167.5h1M351 171.5h1M351 172.5h1M351 173.5h1M351 174.5h1M351 175.5h1M351 177.5h1M351 180.5h1M351 181.5h1M351 183.5h1M351 184.5h1M351 186.5h1M351 188.5h1M351 191.5h1M351 193.5h1M351 195.5h1M351 196.5h1M351 198.5h1M351 199.5h1M351 200.5h1M351 202.5h1M351 204.5h1M351 205.5h1M351 207.5h1M351 208.5h1M352 144.5h1M352 146.5h1M352 154.5h1M352 156.5h1M352 161.5h1M352 162.5h1M352 163.5h1M352 168.5h1M352 169.5h1M352 170.5h1M352 175.5h1M352 177.5h1M352 178.5h1M352 179.5h1M352 180.5h1M352 181.5h1M352 182.5h1M352 184.5h1M352 186.5h1M352 188.5h1M352 189.5h1M352 191.5h1M352 192.5h1M352 195.5h1M352 196.5h1M352 198.5h1M352 202.5h1M352 205.5h1M352 207.5h1M352 209.5h1M353 142.5h1M353 143.5h1M353 146.5h1M353 147.5h1M353 149.5h1M353 150.5h1M353 152.5h1M353 154.5h1M353 156.5h1M353 158.5h1M353 159.5h1M353 161.5h1M353 164.5h1M353 165.5h1M353 166.5h1M353 169.5h1M353 171.5h1M353 173.5h1M353 174.5h1M353 176.5h1M353 184.5h1M353 186.5h1M353 187.5h1M353 188.5h1M353 189.5h1M353 191.5h1M353 193.5h1M353 194.5h1M353 195.5h1M353 197.5h1M353 199.5h1M353 200.5h1M353 202.5h1M353 203.5h1M353 205.5h1M353 208.5h1M353 209.5h1M354 142.5h1M354 144.5h1M354 145.5h1M354 148.5h1M354 149.5h1M354 151.5h1M354 152.5h1M354 154.5h1M354 155.5h1M354 156.5h1M354 160.5h1M354 162.5h1M354 164.5h1M354 167.5h1M354 171.5h1M354 172.5h1M354 175.5h1M354 176.5h1M354 178.5h1M354 179.5h1M354 180.5h1M354 181.5h1M354 182.5h1M354 183.5h1M354 184.5h1M354 189.5h1M354 193.5h1M354 195.5h1M354 197.5h1M354 199.5h1M354 200.5h1M354 203.5h1M354 205.5h1M354 206.5h1M354 207.5h1M355 140.5h1M355 141.5h1M355 142.5h1M355 147.5h1M355 149.5h1M355 150.5h1M355 151.5h1M355 154.5h1M355 156.5h1M355 158.5h1M355 159.5h1M355 162.5h1M355 164.5h1M355 166.5h1M355 168.5h1M355 169.5h1M355 170.5h1M355 173.5h1M355 174.5h1M355 176.5h1M355 178.5h1M355 180.5h1M355 181.5h1M355 185.5h1M355 186.5h1M355 187.5h1M355 189.5h1M355 191.5h1M355 193.5h1M355 195.5h1M355 197.5h1M355 199.5h1M355 202.5h1M355 204.5h1M355 208.5h1M355 209.5h1M356 137.5h1M356 143.5h1M356 144.5h1M356 147.5h1M356 151.5h1M356 153.5h1M356 156.5h1M356 158.5h1M356 160.5h1M356 161.5h1M356 163.5h1M356 165.5h1M356 166.5h1M356 168.5h1M356 171.5h1M356 173.5h1M356 174.5h1M356 176.5h1M356 177.5h1M356 179.5h1M356 181.5h1M356 182.5h1M356 184.5h1M356 185.5h1M356 188.5h1M356 190.5h1M356 191.5h1M356 193.5h1M356 194.5h1M356 196.5h1M356 197.5h1M356 199.5h1M356 200.5h1M356 201.5h1M356 205.5h1M356 208.5h1M357 137.5h1M357 139.5h1M357 140.5h1M357 141.5h1M357 143.5h1M357 145.5h1M357 148.5h1M357 149.5h1M357 150.5h1M357 151.5h1M357 153.5h1M357 154.5h1M357 156.5h1M357 158.5h1M357 161.5h1M357 162.5h1M357 163.5h1M357 167.5h1M357 170.5h1M357 172.5h1M357 174.5h1M357 177.5h1M357 179.5h1M357 181.5h1M357 183.5h1M357 184.5h1M357 186.5h1M357 187.5h1M357 189.5h1M357 190.5h1M357 192.5h1M357 195.5h1M357 197.5h1M357 199.5h1M357 202.5h1M357 203.5h1M357 205.5h1M357 206.5h1M357 207.5h1M358 137.5h1M358 140.5h1M358 141.5h1M358 142.5h1M358 145.5h1M358 146.5h1M358 151.5h1M358 153.5h1M358 155.5h1M358 157.5h1M358 159.5h1M358 165.5h1M358 166.5h1M358 168.5h1M358 169.5h1M358 172.5h1M358 174.5h1M358 175.5h1M358 176.5h1M358 177.5h1M358 181.5h1M358 185.5h1M358 188.5h1M358 193.5h1M358 195.5h1M358 197.5h1M358 199.5h1M358 201.5h1M358 202.5h1M358 203.5h1M358 206.5h1M358 207.5h1M358 208.5h1M359 144.5h1M359 146.5h1M359 147.5h1M359 149.5h1M359 151.5h1M359 152.5h1M359 157.5h1M359 158.5h1M359 160.5h1M359 162.5h1M359 163.5h1M359 165.5h1M359 168.5h1M359 170.5h1M359 171.5h1M359 173.5h1M359 176.5h1M359 179.5h1M359 180.5h1M359 182.5h1M359 183.5h1M359 185.5h1M359 186.5h1M359 187.5h1M359 188.5h1M359 189.5h1M359 191.5h1M359 192.5h1M359 193.5h1M359 195.5h1M359 196.5h1M359 197.5h1M359 199.5h1M359 200.5h1M359 204.5h1M360 138.5h1M360 140.5h1M360 142.5h1M360 145.5h1M360 147.5h1M360 153.5h1M360 154.5h1M360 156.5h1M360 160.5h1M360 161.5h1M360 163.5h1M360 164.5h1M360 166.5h1M360 169.5h1M360 171.5h1M360 172.5h1M360 173.5h1M360 175.5h1M360 176.5h1M360 178.5h1M360 179.5h1M360 181.5h1M360 183.5h1M360 189.5h1M360 190.5h1M360 191.5h1M360 193.5h1M360 195.5h1M360 198.5h1M360 203.5h1M360 206.5h1M360 207.5h1M360 208.5h1M361 139.5h1M361 140.5h1M361 142.5h1M361 143.5h1M361 144.5h1M361 147.5h1M361 149.5h1M361 150.5h1M361 151.5h1M361 153.5h1M361 155.5h1M361 156.5h1M361 157.5h1M361 158.5h1M361 159.5h1M361 162.5h1M361 163.5h1M361 166.5h1M361 168.5h1M361 169.5h1M361 171.5h1M361 173.5h1M361 175.5h1M361 177.5h1M361 180.5h1M361 181.5h1M361 185.5h1M361 188.5h1M361 191.5h1M361 193.5h1M361 197.5h1M361 200.5h1M361 201.5h1M361 202.5h1M361 207.5h1M361 208.5h1M362 139.5h1M362 141.5h1M362 145.5h1M362 146.5h1M362 147.5h1M362 150.5h1M362 152.5h1M362 159.5h1M362 161.5h1M362 164.5h1M362 165.5h1M362 166.5h1M362 169.5h1M362 171.5h1M362 173.5h1M362 175.5h1M362 178.5h1M362 179.5h1M362 182.5h1M362 183.5h1M362 184.5h1M362 185.5h1M362 186.5h1M362 187.5h1M362 188.5h1M362 190.5h1M362 193.5h1M362 194.5h1M362 195.5h1M362 196.5h1M362 197.5h1M362 198.5h1M362 200.5h1M362 206.5h1M362 208.5h1M363 138.5h1M363 139.5h1M363 146.5h1M363 150.5h1M363 152.5h1M363 154.5h1M363 157.5h1M363 158.5h1M363 159.5h1M363 160.5h1M363 162.5h1M363 164.5h1M363 166.5h1M363 168.5h1M363 169.5h1M363 171.5h1M363 172.5h1M363 175.5h1M363 177.5h1M363 179.5h1M363 180.5h1M363 181.5h1M363 182.5h1M363 186.5h1M363 189.5h1M363 190.5h1M363 193.5h1M363 194.5h1M363 199.5h1M363 200.5h1M363 203.5h1M363 205.5h1M364 140.5h1M364 141.5h1M364 147.5h1M364 148.5h1M364 150.5h1M364 151.5h1M364 152.5h1M364 155.5h1M364 157.5h1M364 166.5h1M364 168.5h1M364 171.5h1M364 175.5h1M364 182.5h1M364 184.5h1M364 188.5h1M364 189.5h1M364 190.5h1M364 192.5h1M364 193.5h1M364 195.5h1M364 196.5h1M364 199.5h1M364 202.5h1M364 204.5h1M364 206.5h1M365 131.5h1M365 137.5h1M365 138.5h1M365 139.5h1M365 142.5h1M365 151.5h1M365 153.5h1M365 154.5h1M365 156.5h1M365 157.5h1M365 158.5h1M365 160.5h1M365 162.5h1M365 163.5h1M365 164.5h1M365 168.5h1M365 170.5h1M365 171.5h1M365 173.5h1M365 174.5h1M365 176.5h1M365 177.5h1M365 178.5h1M365 180.5h1M365 182.5h1M365 183.5h1M365 184.5h1M365 186.5h1M365 188.5h1M365 192.5h1M365 194.5h1M365 199.5h1M365 200.5h1M365 202.5h1M365 203.5h1M366 136.5h1M366 138.5h1M366 140.5h1M366 141.5h1M366 148.5h1M366 150.5h1M366 151.5h1M366 152.5h1M366 154.5h1M366 157.5h1M366 161.5h1M366 162.5h1M366 163.5h1M366 165.5h1M366 166.5h1M366 168.5h1M366 171.5h1M366 173.5h1M366 175.5h1M366 185.5h1M366 186.5h1M366 190.5h1M366 191.5h1M366 194.5h1M366 195.5h1M366 196.5h1M366 197.5h1M366 198.5h1M366 203.5h1M366 205.5h1M367 132.5h1M367 133.5h1M367 137.5h1M367 140.5h1M367 143.5h1M367 144.5h1M367 146.5h1M367 150.5h1M367 154.5h1M367 162.5h1M367 169.5h1M367 170.5h1M367 171.5h1M367 173.5h1M367 175.5h1M367 177.5h1M367 182.5h1M367 183.5h1M367 184.5h1M367 185.5h1M367 189.5h1M367 198.5h1M367 204.5h1M368 130.5h1M368 138.5h1M368 140.5h1M368 142.5h1M368 144.5h1M368 146.5h1M368 147.5h1M368 149.5h1M368 152.5h1M368 154.5h1M368 157.5h1M368 158.5h1M368 159.5h1M368 160.5h1M368 164.5h1M368 166.5h1M368 182.5h1M368 188.5h1M368 189.5h1M368 190.5h1M368 191.5h1M368 192.5h1M368 193.5h1M368 194.5h1M369 129.5h1M369 131.5h1M369 132.5h1M369 133.5h1M369 138.5h1M369 141.5h1M369 142.5h1M369 144.5h1M369 147.5h1M369 149.5h1M369 150.5h1M369 152.5h1M369 154.5h1M369 158.5h1M369 180.5h1M369 186.5h1M369 187.5h1M370 128.5h1M370 131.5h1M370 138.5h1M370 139.5h1M370 140.5h1M370 141.5h1M370 144.5h1M370 145.5h1M370 149.5h1M370 154.5h1M370 155.5h1M370 156.5h1M370 157.5h1M370 158.5h1M370 165.5h1M370 166.5h1M370 167.5h1M370 180.5h1M371 121.5h1M371 127.5h1M371 129.5h1M371 131.5h1M371 138.5h1M371 140.5h1M371 143.5h1M371 147.5h1M371 150.5h1M371 151.5h1M371 152.5h1M371 155.5h1M371 183.5h1M372 131.5h1M372 137.5h1M372 139.5h1M372 141.5h1M372 143.5h1M372 145.5h1M372 147.5h1M372 149.5h1M372 151.5h1M372 155.5h1M372 157.5h1M372 176.5h1M372 177.5h1M372 181.5h1M373 121.5h1M373 131.5h1M373 143.5h1M373 145.5h1M373 146.5h1M373 147.5h1M373 149.5h1M374 129.5h1M374 144.5h1M375 145.5h1M375 147.5h1M376 144.5h1M377 146.5h1M377 148.5h1M378 125.5h1M379 120.5h1M379 122.5h1M379 125.5h1M379 126.5h1M379 136.5h1M379 137.5h1M379 138.5h1M380 113.5h1M380 125.5h1M380 127.5h1M381 111.5h1M381 113.5h1M381 118.5h1M381 119.5h1M381 120.5h1M381 121.5h1M381 122.5h1M381 124.5h1M381 126.5h1M381 135.5h1M382 113.5h1M382 115.5h1M382 118.5h1M382 123.5h1M382 125.5h1M383 115.5h1M383 116.5h1M383 120.5h1M383 121.5h1M383 123.5h1M383 124.5h1M384 117.5h1M384 122.5h1M385 117.5h1M385 119.5h1M389 104.5h1M389 110.5h1M389 112.5h1M389 114.5h1M390 107.5h1M390 110.5h1M390 122.5h1M390 124.5h1M391 105.5h1M391 106.5h1M391 108.5h1M391 110.5h1M391 121.5h1M391 124.5h1M392 109.5h1M393 106.5h1M393 108.5h1M393 111.5h1M394 101.5h1M394 108.5h1M394 109.5h1M395 103.5h1M395 107.5h1M395 110.5h1M395 111.5h1M395 112.5h1M396 101.5h1M396 103.5h1M396 104.5h1M396 109.5h1M397 102.5h1M397 104.5h1M397 107.5h1M397 108.5h1M397 111.5h1M398 99.5h1M398 103.5h1M398 106.5h1M398 108.5h1M398 110.5h1M399 97.5h1M399 99.5h1M399 103.5h1M399 106.5h1M399 109.5h1M400 91.5h1M400 97.5h1M400 98.5h1M400 100.5h1M400 101.5h1M400 103.5h1M400 105.5h1M400 108.5h1M401 89.5h1M401 98.5h1M401 100.5h1M401 102.5h1M401 105.5h1M401 106.5h1M401 107.5h1M401 108.5h1M402 91.5h1M402 97.5h1M402 98.5h1M402 101.5h1M402 103.5h1M402 105.5h1M403 91.5h1M403 93.5h1M403 95.5h1M403 103.5h1M403 106.5h1M403 108.5h1M404 90.5h1M404 94.5h1M404 96.5h1M404 98.5h1M404 102.5h1M404 104.5h1M405 88.5h1M405 91.5h1M405 92.5h1M405 93.5h1M405 97.5h1M405 102.5h1M405 104.5h1M405 105.5h1M406 89.5h1M406 90.5h1M406 94.5h1M406 96.5h1M406 97.5h1M406 98.5h1M406 102.5h1M407 90.5h1M407 92.5h1M407 93.5h1M407 96.5h1M407 98.5h1M407 101.5h1M407 102.5h1M407 104.5h1M407 106.5h1M407 107.5h1M408 91.5h1M408 93.5h1M408 95.5h1M408 99.5h1M408 100.5h1M408 102.5h1M409 92.5h1M409 95.5h1M409 96.5h1M409 99.5h1M409 107.5h1M409 108.5h1M410 92.5h1M410 94.5h1M410 96.5h1M410 100.5h1M410 101.5h1M411 92.5h1M411 95.5h1M411 96.5h1M411 100.5h1M411 105.5h1M412 84.5h1M412 92.5h1M412 94.5h1M412 98.5h1M413 82.5h1M413 84.5h1M413 94.5h1M414 82.5h1M414 84.5h1M414 91.5h1M414 94.5h1M415 82.5h1M415 86.5h1M415 92.5h1M415 93.5h1M416 90.5h1M416 92.5h1" stroke="#444" stroke-width="1" fill="none"/>
<path d="M327.00 211.1v5.0M325.9 210.30h-5.2M339.49 211.1v3.0M325.9 196.36h-2.5M346.80 211.1v3.0M325.9 188.21h-2.5M351.99 211.1v3.0M325.9 182.42h-2.5M356.01 211.1v3.0M325.9 177.94h-2.5M359.29 211.1v3.0M325.9 174.27h-2.5M362.07 211.1v3.0M325.9 171.17h-2.5M364.48 211.1v3.0M325.9 168.49h-2.5M366.60 211.1v3.0M325.9 166.12h-2.5M368.50 211.1v5.0M325.9 164.00h-5.2M380.99 211.1v3.0M325.9 150.06h-2.5M388.30 211.1v3.0M325.9 141.91h-2.5M393.49 211.1v3.0M325.9 136.12h-2.5M397.51 211.1v3.0M325.9 131.64h-2.5M400.79 211.1v3.0M325.9 127.97h-2.5M403.57 211.1v3.0M325.9 124.87h-2.5M405.98 211.1v3.0M325.9 122.19h-2.5M408.10 211.1v3.0M325.9 119.82h-2.5M410.00 211.1v5.0M325.9 117.70h-5.2M422.49 211.1v3.0M325.9 103.76h-2.5M429.80 211.1v3.0M325.9 95.61h-2.5M434.99 211.1v3.0M325.9 89.82h-2.5M439.01 211.1v3.0M325.9 85.34h-2.5M442.29 211.1v3.0M325.9 81.67h-2.5M445.07 211.1v3.0M325.9 78.57h-2.5M447.48 211.1v3.0M325.9 75.89h-2.5M449.60 211.1v3.0M325.9 73.52h-2.5M451.50 211.1v5.0M325.9 71.40h-5.2M463.99 211.1v3.0M325.9 57.46h-2.5M471.30 211.1v3.0M325.9 49.31h-2.5M476.49 211.1v3.0M325.9 43.52h-2.5M480.51 211.1v3.0M325.9 39.04h-2.5M483.79 211.1v3.0M325.9 35.37h-2.5M486.57 211.1v3.0M325.9 32.27h-2.5M488.98 211.1v3.0M325.9 29.59h-2.5M491.10 211.1v3.0M325.9 27.22h-2.5M493.00 211.1v4.6M325.9 25.10h-5.2" stroke="#000" stroke-width="1.1" fill="none"/>
<path d="M325.9 23.7H492.5V211.1H325.9Z" stroke="#000" stroke-width="1.8" fill="none"/>
<path d="M385.5 23.7V211.1M325.9 175.9H489" stroke="#000" stroke-width="2.1" fill="none"/>
<text x="1.6" y="28" font-size="36.5">A</text>
<text x="263.1" y="26.9" font-size="36.5">B</text>
<text x="-0.4" y="284.4" font-size="36.5">C</text>
<text x="115.2" y="15.3" font-size="20.5">Control</text>
<text x="345.0" y="16.5" font-size="20.5">BV13 Treated</text>
<text x="65.5" y="237.1" font-size="16.5" textLength="16.4" lengthAdjust="spacingAndGlyphs">10</text>
<text x="82.8" y="229.79999999999998" font-size="16.5" textLength="8.0" lengthAdjust="spacingAndGlyphs">0</text>
<text x="68.0" y="217.6" font-size="16" textLength="16.5" lengthAdjust="spacingAndGlyphs" transform="rotate(-90 68.0 217.6)">10</text>
<text x="59.0" y="201.3" font-size="16" textLength="8.3" lengthAdjust="spacingAndGlyphs" transform="rotate(-90 59.0 201.3)">0</text>
<text x="108.8" y="237.1" font-size="16.5" textLength="16.4" lengthAdjust="spacingAndGlyphs">10</text>
<text x="126.1" y="229.79999999999998" font-size="16.5" textLength="8.0" lengthAdjust="spacingAndGlyphs">1</text>
<text x="68.0" y="171.7" font-size="16" textLength="16.5" lengthAdjust="spacingAndGlyphs" transform="rotate(-90 68.0 171.7)">10</text>
<text x="59.0" y="156.2" font-size="16" textLength="8.3" lengthAdjust="spacingAndGlyphs" transform="rotate(-90 59.0 156.2)">1</text>
<text x="149.3" y="237.1" font-size="16.5" textLength="16.4" lengthAdjust="spacingAndGlyphs">10</text>
<text x="166.6" y="229.79999999999998" font-size="16.5" textLength="8.0" lengthAdjust="spacingAndGlyphs">2</text>
<text x="68.0" y="125.8" font-size="16" textLength="16.5" lengthAdjust="spacingAndGlyphs" transform="rotate(-90 68.0 125.8)">10</text>
<text x="59.0" y="109.7" font-size="16" textLength="8.3" lengthAdjust="spacingAndGlyphs" transform="rotate(-90 59.0 109.7)">2</text>
<text x="190.1" y="237.1" font-size="16.5" textLength="15.8" lengthAdjust="spacingAndGlyphs">10</text>
<text x="206.4" y="229.79999999999998" font-size="16.5" textLength="8.0" lengthAdjust="spacingAndGlyphs">3</text>
<text x="68.0" y="79.5" font-size="16" textLength="16.5" lengthAdjust="spacingAndGlyphs" transform="rotate(-90 68.0 79.5)">10</text>
<text x="59.0" y="63.4" font-size="16" textLength="8.3" lengthAdjust="spacingAndGlyphs" transform="rotate(-90 59.0 63.4)">3</text>
<text x="230.8" y="237.1" font-size="16.5" textLength="15.4" lengthAdjust="spacingAndGlyphs">10</text>
<text x="245.7" y="229.79999999999998" font-size="16.5" textLength="8.0" lengthAdjust="spacingAndGlyphs">4</text>
<text x="68.0" y="35.6" font-size="16" textLength="16.5" lengthAdjust="spacingAndGlyphs" transform="rotate(-90 68.0 35.6)">10</text>
<text x="59.0" y="20.5" font-size="16" textLength="8.3" lengthAdjust="spacingAndGlyphs" transform="rotate(-90 59.0 20.5)">4</text>
<text x="320.6" y="237.1" font-size="16.5" textLength="16.4" lengthAdjust="spacingAndGlyphs">10</text>
<text x="337.9" y="229.79999999999998" font-size="16.5" textLength="8.0" lengthAdjust="spacingAndGlyphs">0</text>
<text x="320.0" y="218.2" font-size="16" textLength="16.5" lengthAdjust="spacingAndGlyphs" transform="rotate(-90 320.0 218.2)">10</text>
<text x="311.0" y="201.9" font-size="16" textLength="8.3" lengthAdjust="spacingAndGlyphs" transform="rotate(-90 311.0 201.9)">0</text>
<text x="363.7" y="237.1" font-size="16.5" textLength="16.4" lengthAdjust="spacingAndGlyphs">10</text>
<text x="381.0" y="229.79999999999998" font-size="16.5" textLength="8.0" lengthAdjust="spacingAndGlyphs">1</text>
<text x="320.0" y="171.8" font-size="16" textLength="16.5" lengthAdjust="spacingAndGlyphs" transform="rotate(-90 320.0 171.8)">10</text>
<text x="311.0" y="156.3" font-size="16" textLength="8.3" lengthAdjust="spacingAndGlyphs" transform="rotate(-90 311.0 156.3)">1</text>
<text x="404.1" y="237.1" font-size="16.5" textLength="16.4" lengthAdjust="spacingAndGlyphs">10</text>
<text x="421.4" y="229.79999999999998" font-size="16.5" textLength="8.0" lengthAdjust="spacingAndGlyphs">2</text>
<text x="320.0" y="125.5" font-size="16" textLength="16.5" lengthAdjust="spacingAndGlyphs" transform="rotate(-90 320.0 125.5)">10</text>
<text x="311.0" y="109.4" font-size="16" textLength="8.3" lengthAdjust="spacingAndGlyphs" transform="rotate(-90 311.0 109.4)">2</text>
<text x="445.2" y="237.1" font-size="16.5" textLength="15.8" lengthAdjust="spacingAndGlyphs">10</text>
<text x="461.5" y="229.79999999999998" font-size="16.5" textLength="8.0" lengthAdjust="spacingAndGlyphs">3</text>
<text x="320.0" y="79.2" font-size="16" textLength="16.5" lengthAdjust="spacingAndGlyphs" transform="rotate(-90 320.0 79.2)">10</text>
<text x="311.0" y="63.1" font-size="16" textLength="8.3" lengthAdjust="spacingAndGlyphs" transform="rotate(-90 311.0 63.1)">3</text>
<text x="485.6" y="237.1" font-size="16.5" textLength="15.4" lengthAdjust="spacingAndGlyphs">10</text>
<text x="500.5" y="229.79999999999998" font-size="16.5" textLength="8.0" lengthAdjust="spacingAndGlyphs">4</text>
<text x="320.0" y="35.3" font-size="16" textLength="16.5" lengthAdjust="spacingAndGlyphs" transform="rotate(-90 320.0 35.3)">10</text>
<text x="311.0" y="20.2" font-size="16" textLength="8.3" lengthAdjust="spacingAndGlyphs" transform="rotate(-90 311.0 20.2)">4</text>
<text x="125.2" y="258" font-size="18">PECAM</text>
<text x="379.5" y="257.8" font-size="18">PECAM</text>
<text x="37.5" y="132.5" font-size="18" transform="rotate(-90 37.5 132.5)">FLK</text>
<text x="289.3" y="132.6" font-size="18" transform="rotate(-90 289.3 132.6)">FLK</text>
<path d="M57.400000000000006 513.60H61.2M57.400000000000006 491.75H61.2M57.400000000000006 469.90H61.2M57.400000000000006 448.05H61.2M57.400000000000006 426.20H61.2M57.400000000000006 404.35H61.2M57.400000000000006 382.50H61.2M57.400000000000006 360.65H61.2M57.400000000000006 338.80H61.2M57.400000000000006 316.95H61.2M57.400000000000006 295.10H61.2" stroke="#888" stroke-width="1" fill="none"/>
<path d="M61.2 491.75H512.4M61.2 469.90H512.4M61.2 448.05H512.4M61.2 426.20H512.4M61.2 404.35H512.4M61.2 382.50H512.4M61.2 360.65H512.4M61.2 338.80H512.4M61.2 316.95H512.4" stroke="#000" stroke-width="1.7" fill="none"/>
<path d="M61.2 295.1H512.4V517.6" stroke="#626262" stroke-width="1.6" fill="none"/>
<path d="M61.2 294.40000000000003V517.6" stroke="#555" stroke-width="1.7" fill="none"/>
<path d="M61.2 513.6H512.4M287 513.6v4" stroke="#333" stroke-width="1.2" fill="none"/>
<path d="M123.5 397.0V359.6M117.2 359.6h12.6" stroke="#000" stroke-width="1.5" fill="none"/>
<rect x="98.4" y="397.0" width="51.1" height="116.6" fill="#000" stroke="#000" stroke-width="1.4"/>
<path d="M173.7 401.9V371.4M167.39999999999998 371.4h12.6" stroke="#000" stroke-width="1.5" fill="none"/>
<rect x="149.5" y="401.9" width="49.2" height="111.7" fill="#808080" stroke="#000" stroke-width="1.4"/>
<path d="M223.7 400.1V376.3M217.39999999999998 376.3h12.6" stroke="#000" stroke-width="1.5" fill="none"/>
<rect x="198.7" y="400.1" width="50.3" height="113.5" fill="#c8c8c8" stroke="#000" stroke-width="1.4"/>
<path d="M349 417.5V365.2M342.7 365.2h12.6" stroke="#000" stroke-width="1.5" fill="none"/>
<rect x="323.7" y="417.5" width="51.0" height="96.1" fill="#000" stroke="#000" stroke-width="1.4"/>
<path d="M399.3 401.7V362.8M393.0 362.8h12.6" stroke="#000" stroke-width="1.5" fill="none"/>
<rect x="374.7" y="401.7" width="50.0" height="111.9" fill="#808080" stroke="#000" stroke-width="1.4"/>
<path d="M449.6 409.5V379.3M443.3 379.3h12.6" stroke="#000" stroke-width="1.5" fill="none"/>
<rect x="424.7" y="409.5" width="49.7" height="104.1" fill="#c8c8c8" stroke="#000" stroke-width="1.4"/>
<text x="52.3" y="518.2" font-size="17.2" text-anchor="end">0</text>
<text x="52.3" y="496.4" font-size="17.2" text-anchor="end">5</text>
<text x="52.3" y="474.5" font-size="17.2" text-anchor="end">10</text>
<text x="52.3" y="452.7" font-size="17.2" text-anchor="end">15</text>
<text x="52.3" y="430.8" font-size="17.2" text-anchor="end">20</text>
<text x="52.3" y="409.0" font-size="17.2" text-anchor="end">25</text>
<text x="52.3" y="387.1" font-size="17.2" text-anchor="end">30</text>
<text x="52.3" y="365.2" font-size="17.2" text-anchor="end">35</text>
<text x="52.3" y="343.4" font-size="17.2" text-anchor="end">40</text>
<text x="52.3" y="321.6" font-size="17.2" text-anchor="end">45</text>
<text x="52.3" y="299.7" font-size="17.2" text-anchor="end">50</text>
<text x="15.3" y="494.0" font-size="17" textLength="170.5" lengthAdjust="spacingAndGlyphs" transform="rotate(-90 15.3 494.0)">Percent of Total Cells</text>
<text x="144.3" y="533.3" font-size="17" textLength="59.6" lengthAdjust="spacingAndGlyphs">Control</text>
<text x="353.5" y="533.0" font-size="17" textLength="106.8" lengthAdjust="spacingAndGlyphs">BV13 Treated</text>
<text x="248.3" y="548.3" font-size="17" textLength="80.3" lengthAdjust="spacingAndGlyphs">Treatment</text>
<text x="50.0" y="570.7" font-size="17" textLength="75.9" lengthAdjust="spacingAndGlyphs">Flk+ cells</text>
<text x="158.4" y="570.5" font-size="17" textLength="151.6" lengthAdjust="spacingAndGlyphs">Flk+/PECAM+ cells</text>
<text x="330.5" y="570.3" font-size="17" textLength="189.2" lengthAdjust="spacingAndGlyphs">Propidium Iodide+ cells</text>
<rect x="77.5" y="576.3" width="18" height="12.6" fill="#000"/>
<rect x="219.3" y="576.3" width="18.2" height="12.6" fill="#808080"/>
<rect x="418.8" y="576.3" width="18.2" height="12.6" fill="#c8c8c8"/>
</svg>
</body></html>
